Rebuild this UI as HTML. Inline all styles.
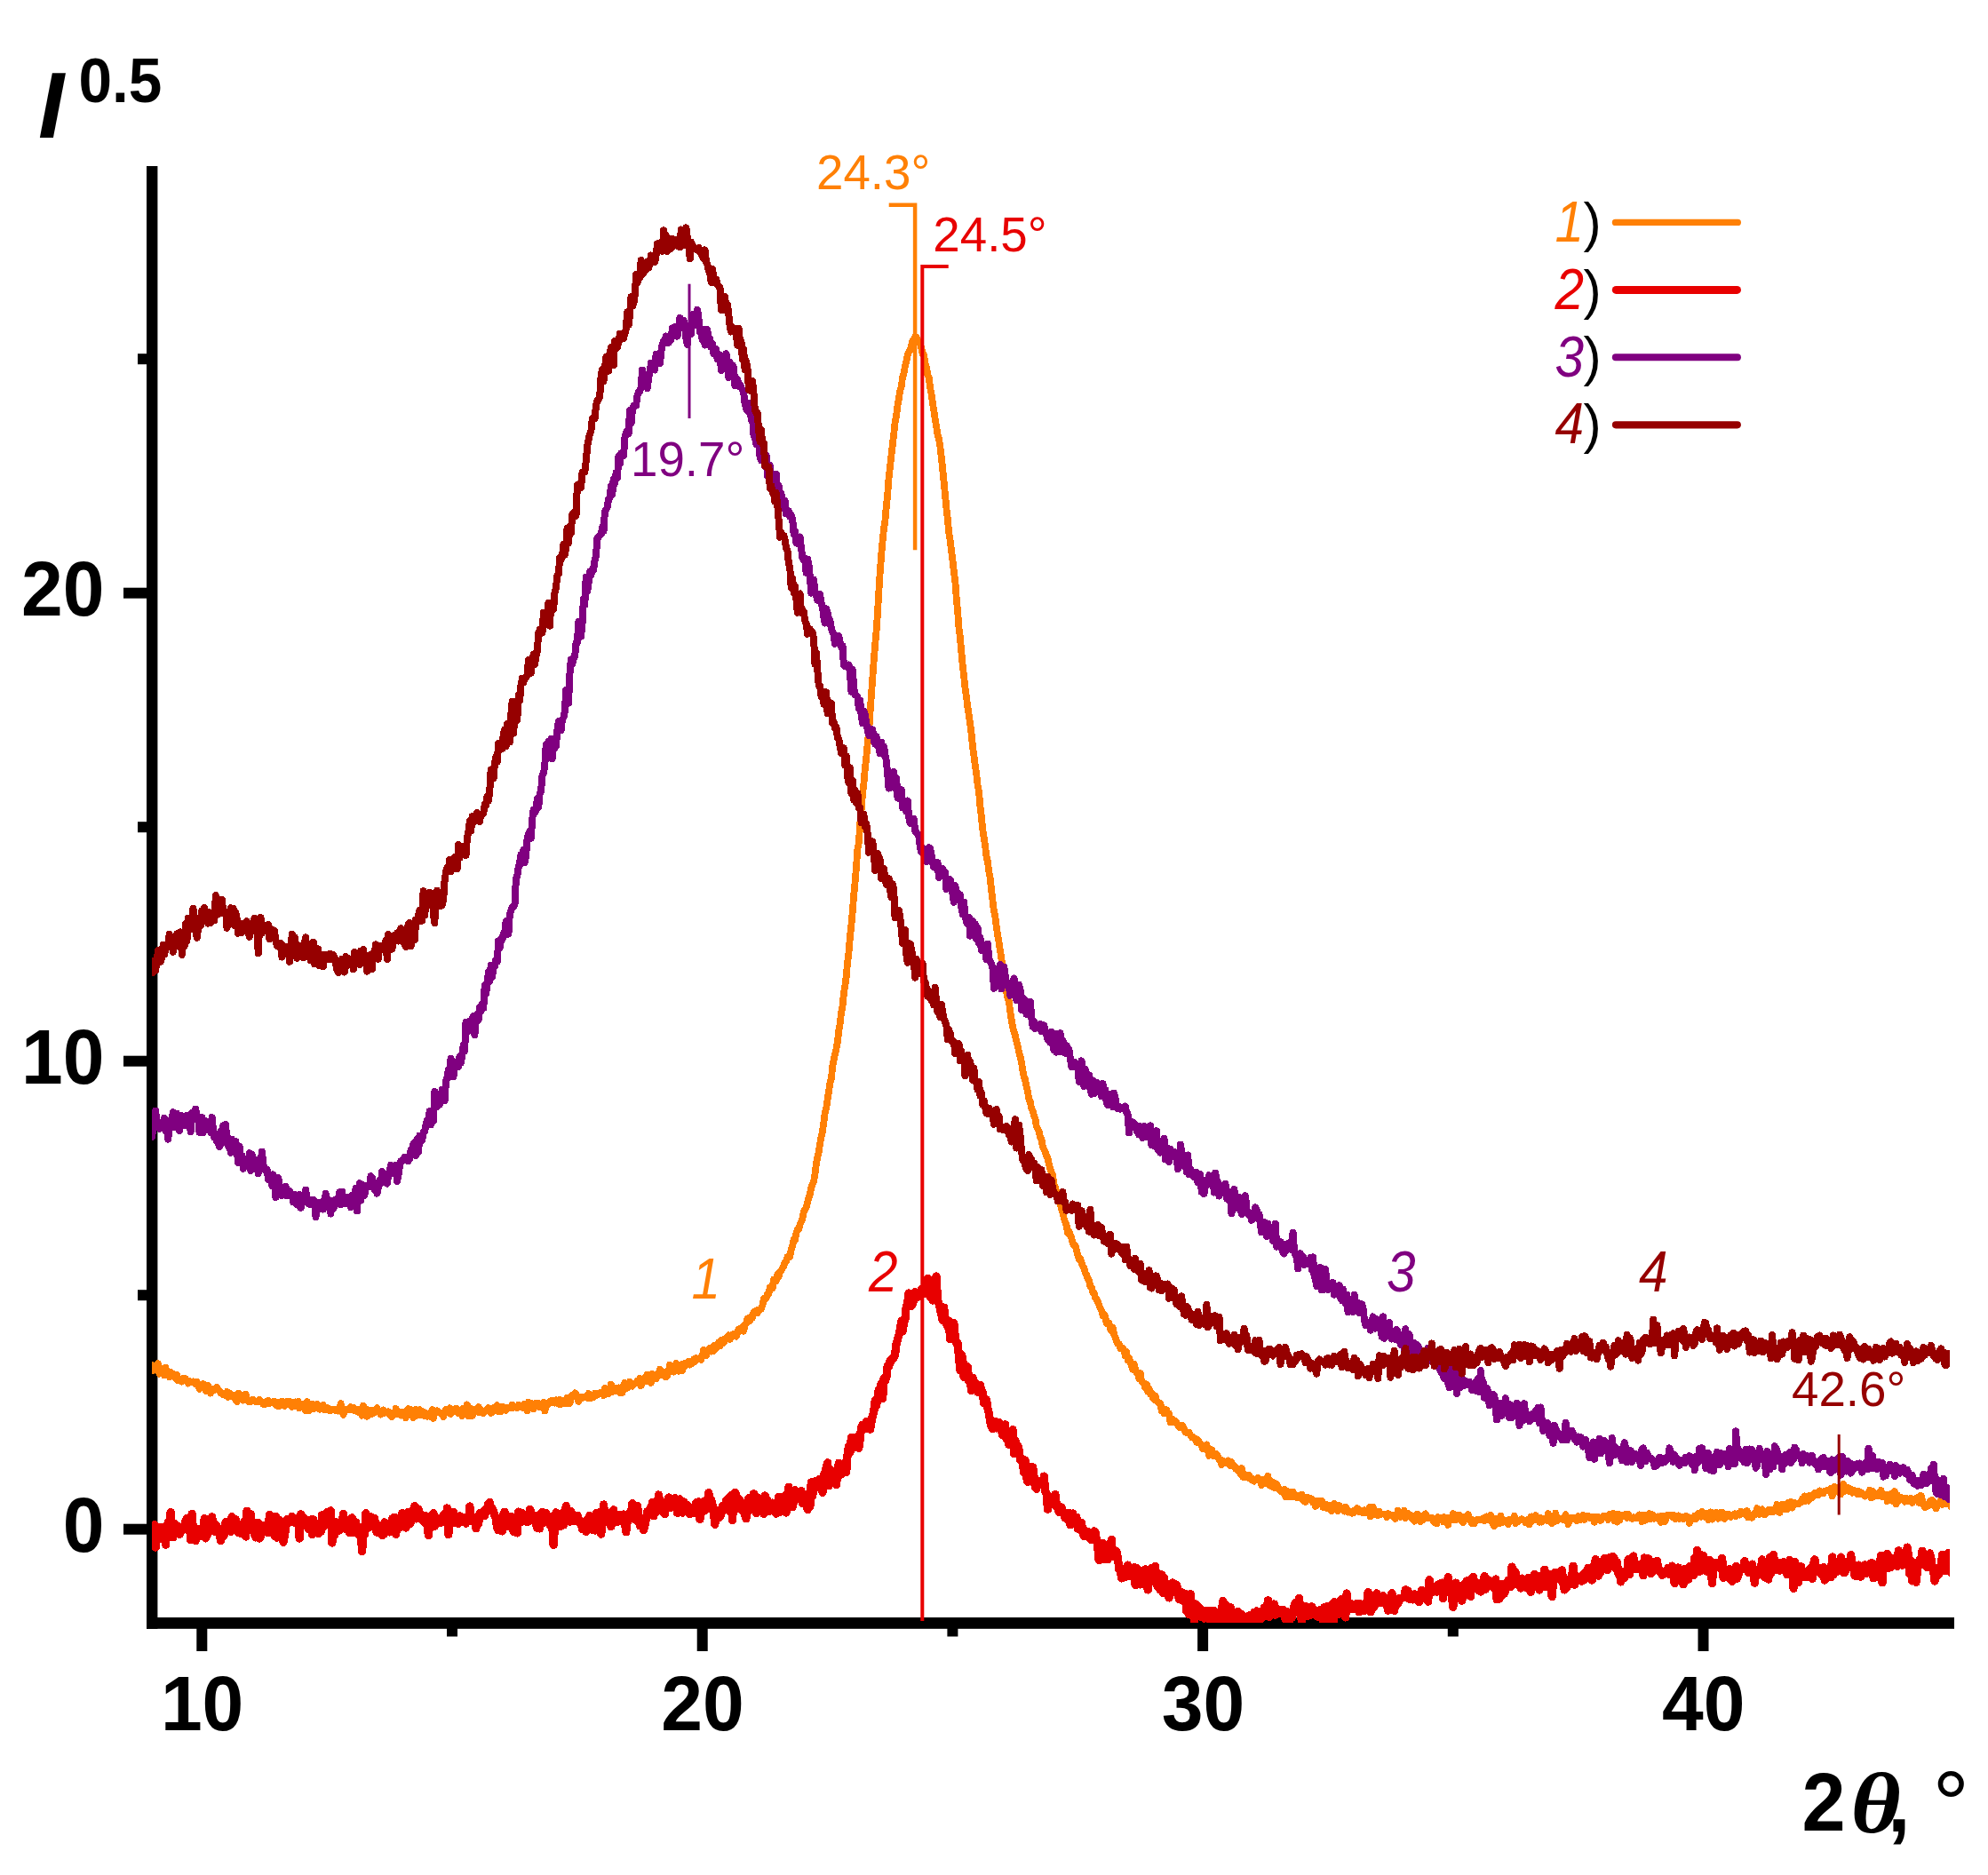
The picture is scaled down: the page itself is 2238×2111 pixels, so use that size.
<!DOCTYPE html>
<html><head><meta charset="utf-8"><title>XRD</title>
<style>
html,body{margin:0;padding:0;background:#fff;}
body{width:2238px;height:2111px;overflow:hidden;}
svg{display:block;}
text{font-family:"Liberation Sans",sans-serif;}
</style></head><body>
<svg width="2238" height="2111" viewBox="0 0 2238 2111">
<defs><clipPath id="plot"><rect x="171" y="150" width="2024" height="1677"/></clipPath></defs>
<rect width="2238" height="2111" fill="#fff"/>
<g fill="#000">
<rect x="165" y="187" width="12.4" height="1646.8"/>
<rect x="165" y="1821" width="2035" height="12.8"/>
<rect x="221.3" y="1827" width="12" height="32"/>
<rect x="784.7" y="1827" width="12" height="32"/>
<rect x="1348.1" y="1827" width="12" height="32"/>
<rect x="1911.5" y="1827" width="12" height="32"/>
<rect x="503.0" y="1827" width="12" height="15.5"/>
<rect x="1066.4" y="1827" width="12" height="15.5"/>
<rect x="1629.8" y="1827" width="12" height="15.5"/>
<rect x="139" y="1715.7" width="32" height="12"/>
<rect x="139" y="1188.7" width="32" height="12"/>
<rect x="139" y="661.7" width="32" height="12"/>
<rect x="155" y="1452.2" width="16" height="12"/>
<rect x="155" y="925.2" width="16" height="12"/>
<rect x="155" y="398.2" width="16" height="12"/>
</g>
<g clip-path="url(#plot)" fill="none" shape-rendering="crispEdges" stroke-linejoin="round" stroke-linecap="round">
<polyline stroke="#FF8005" stroke-width="7.8" points="171.0,1543.4 172.4,1537.3 173.8,1538.0 175.2,1537.2 176.6,1543.0 178.0,1535.1 179.5,1546.7 180.9,1540.6 182.3,1544.2 183.7,1543.3 185.1,1548.5 186.5,1539.7 187.9,1545.0 189.3,1545.5 190.7,1550.2 192.1,1544.9 193.5,1547.9 194.9,1546.6 196.4,1549.7 197.8,1551.8 199.2,1547.8 200.6,1554.4 202.0,1554.4 203.4,1553.9 204.8,1555.5 206.2,1551.9 207.6,1554.0 209.0,1552.4 210.4,1554.7 211.8,1557.5 213.3,1554.8 214.7,1555.9 216.1,1555.5 217.5,1555.4 218.9,1556.3 220.3,1558.4 221.7,1555.8 223.1,1559.8 224.5,1564.0 225.9,1561.9 227.3,1559.7 228.7,1558.2 230.2,1558.9 231.6,1565.8 233.0,1561.8 234.4,1560.3 235.8,1562.9 237.2,1568.6 238.6,1563.7 240.0,1565.5 241.4,1565.1 242.8,1563.8 244.2,1562.1 245.7,1564.8 247.1,1565.6 248.5,1568.2 249.9,1569.4 251.3,1570.1 252.7,1568.8 254.1,1570.9 255.5,1566.9 256.9,1572.8 258.3,1571.2 259.7,1569.4 261.1,1571.9 262.6,1570.8 264.0,1574.4 265.4,1575.9 266.8,1578.1 268.2,1568.8 269.6,1569.1 271.0,1572.0 272.4,1574.2 273.8,1576.5 275.2,1575.4 276.6,1569.5 278.0,1574.5 279.5,1578.0 280.9,1576.7 282.3,1578.3 283.7,1575.8 285.1,1576.1 286.5,1577.3 287.9,1578.1 289.3,1577.7 290.7,1577.7 292.1,1575.7 293.5,1578.7 294.9,1578.2 296.4,1581.1 297.8,1581.5 299.2,1578.9 300.6,1577.6 302.0,1577.0 303.4,1580.1 304.8,1579.3 306.2,1578.4 307.6,1579.6 309.0,1578.0 310.4,1581.7 311.9,1578.7 313.3,1583.4 314.7,1581.3 316.1,1581.9 317.5,1577.5 318.9,1581.1 320.3,1582.7 321.7,1578.3 323.1,1580.3 324.5,1581.2 325.9,1577.6 327.3,1582.3 328.8,1583.8 330.2,1579.4 331.6,1582.8 333.0,1578.4 334.4,1582.0 335.8,1577.9 337.2,1585.4 338.6,1583.6 340.0,1582.6 341.4,1580.7 342.8,1586.4 344.2,1588.4 345.7,1578.2 347.1,1586.7 348.5,1587.9 349.9,1584.5 351.3,1580.5 352.7,1586.3 354.1,1583.6 355.5,1582.6 356.9,1581.0 358.3,1586.0 359.7,1586.8 361.1,1583.1 362.6,1586.3 364.0,1582.0 365.4,1587.4 366.8,1585.5 368.2,1585.0 369.6,1585.4 371.0,1588.1 372.4,1588.0 373.8,1587.5 375.2,1586.6 376.6,1586.6 378.0,1588.2 379.5,1587.2 380.9,1588.5 382.3,1585.9 383.7,1580.2 385.1,1589.7 386.5,1592.8 387.9,1588.2 389.3,1586.7 390.7,1586.7 392.1,1586.8 393.5,1587.2 395.0,1584.2 396.4,1585.9 397.8,1584.7 399.2,1588.1 400.6,1586.7 402.0,1588.9 403.4,1587.1 404.8,1590.3 406.2,1588.3 407.6,1593.7 409.0,1582.7 410.4,1586.1 411.9,1590.3 413.3,1594.8 414.7,1587.4 416.1,1588.3 417.5,1587.6 418.9,1591.9 420.3,1587.7 421.7,1590.4 423.1,1587.8 424.5,1585.3 425.9,1589.7 427.3,1590.3 428.8,1592.5 430.2,1588.8 431.6,1587.6 433.0,1590.9 434.4,1590.1 435.8,1590.3 437.2,1589.4 438.6,1592.9 440.0,1590.8 441.4,1595.1 442.8,1593.0 444.2,1591.9 445.7,1585.9 447.1,1592.0 448.5,1591.6 449.9,1592.7 451.3,1593.5 452.7,1589.7 454.1,1593.1 455.5,1589.4 456.9,1596.3 458.3,1587.4 459.7,1586.2 461.2,1586.4 462.6,1588.5 464.0,1587.8 465.4,1596.1 466.8,1589.9 468.2,1587.1 469.6,1593.7 471.0,1589.1 472.4,1587.3 473.8,1593.0 475.2,1592.3 476.6,1589.4 478.1,1594.3 479.5,1590.8 480.9,1594.8 482.3,1591.8 483.7,1594.6 485.1,1590.7 486.5,1587.0 487.9,1596.9 489.3,1588.8 490.7,1589.7 492.1,1588.3 493.5,1589.6 495.0,1590.8 496.4,1590.7 497.8,1591.9 499.2,1594.9 500.6,1589.7 502.0,1586.7 503.4,1586.7 504.8,1588.1 506.2,1585.3 507.6,1592.0 509.0,1588.3 510.4,1588.8 511.9,1589.5 513.3,1585.7 514.7,1587.1 516.1,1591.2 517.5,1591.0 518.9,1588.0 520.3,1594.1 521.7,1585.6 523.1,1588.1 524.5,1588.4 525.9,1581.4 527.4,1594.1 528.8,1589.8 530.2,1585.9 531.6,1594.2 533.0,1590.2 534.4,1589.7 535.8,1586.8 537.2,1588.7 538.6,1584.1 540.0,1590.3 541.4,1587.0 542.8,1588.2 544.3,1591.0 545.7,1588.3 547.1,1588.1 548.5,1588.0 549.9,1585.2 551.3,1589.3 552.7,1591.0 554.1,1588.8 555.5,1589.0 556.9,1584.1 558.3,1584.0 559.7,1582.3 561.2,1589.4 562.6,1585.2 564.0,1589.5 565.4,1583.5 566.8,1584.3 568.2,1585.6 569.6,1587.7 571.0,1585.2 572.4,1585.5 573.8,1584.8 575.2,1585.1 576.6,1581.5 578.1,1584.6 579.5,1583.7 580.9,1583.9 582.3,1585.2 583.7,1581.9 585.1,1583.4 586.5,1582.7 587.9,1584.5 589.3,1585.3 590.7,1580.5 592.1,1584.5 593.6,1588.3 595.0,1578.6 596.4,1580.2 597.8,1579.9 599.2,1581.4 600.6,1586.4 602.0,1581.9 603.4,1579.9 604.8,1583.3 606.2,1579.8 607.6,1584.3 609.0,1581.9 610.5,1584.6 611.9,1578.9 613.3,1588.6 614.7,1582.5 616.1,1581.8 617.5,1579.7 618.9,1577.7 620.3,1577.1 621.7,1578.8 623.1,1576.8 624.5,1579.5 625.9,1576.3 627.4,1580.0 628.8,1580.7 630.2,1576.0 631.6,1580.9 633.0,1576.9 634.4,1580.4 635.8,1578.3 637.2,1579.9 638.6,1574.0 640.0,1576.2 641.4,1580.2 642.8,1574.4 644.3,1570.2 645.7,1570.2 647.1,1568.4 648.5,1569.2 649.9,1573.5 651.3,1577.8 652.7,1572.9 654.1,1574.7 655.5,1573.2 656.9,1573.2 658.3,1572.5 659.7,1572.2 661.2,1573.6 662.6,1568.9 664.0,1574.5 665.4,1574.0 666.8,1570.7 668.2,1573.1 669.6,1568.8 671.0,1568.9 672.4,1570.5 673.8,1569.3 675.2,1568.3 676.7,1567.5 678.1,1567.5 679.5,1571.1 680.9,1562.9 682.3,1568.7 683.7,1566.7 685.1,1568.9 686.5,1567.9 687.9,1558.5 689.3,1567.2 690.7,1566.1 692.1,1564.9 693.6,1563.1 695.0,1566.3 696.4,1562.4 697.8,1568.1 699.2,1564.2 700.6,1568.1 702.0,1559.8 703.4,1556.7 704.8,1563.0 706.2,1562.9 707.6,1560.3 709.0,1555.6 710.5,1558.2 711.9,1560.6 713.3,1558.0 714.7,1557.7 716.1,1557.0 717.5,1554.4 718.9,1555.0 720.3,1552.0 721.7,1560.1 723.1,1553.5 724.5,1555.6 725.9,1551.0 727.4,1555.4 728.8,1547.6 730.2,1554.7 731.6,1551.5 733.0,1556.8 734.4,1547.1 735.8,1550.3 737.2,1550.5 738.6,1552.3 740.0,1547.3 741.4,1548.2 742.9,1541.6 744.3,1544.6 745.7,1547.6 747.1,1548.8 748.5,1544.5 749.9,1550.3 751.3,1549.0 752.7,1543.5 754.1,1536.6 755.5,1537.8 756.9,1540.0 758.3,1544.6 759.8,1541.9 761.2,1534.9 762.6,1539.4 764.0,1543.8 765.4,1537.9 766.8,1536.4 768.2,1543.4 769.6,1537.5 771.0,1535.2 772.4,1536.7 773.8,1535.0 775.2,1532.9 776.7,1536.5 778.1,1535.5 779.5,1533.9 780.9,1530.5 782.3,1533.1 783.7,1529.1 785.1,1529.6 786.5,1530.4 787.9,1528.9 789.3,1530.8 790.7,1526.3 792.1,1519.8 793.6,1520.4 795.0,1526.3 796.4,1520.8 797.8,1521.8 799.2,1517.6 800.6,1521.6 802.0,1517.0 803.4,1521.0 804.8,1514.7 806.2,1518.3 807.6,1516.2 809.1,1511.5 810.5,1515.5 811.9,1509.1 813.3,1508.4 814.7,1511.7 816.1,1507.1 817.5,1506.3 818.9,1506.0 820.3,1503.3 821.7,1507.9 823.1,1505.7 824.5,1502.8 826.0,1501.6 827.4,1502.1 828.8,1504.6 830.2,1501.1 831.6,1496.4 833.0,1498.8 834.4,1495.3 835.8,1494.1 837.2,1498.6 838.6,1491.4 840.0,1490.2 841.4,1484.3 842.9,1483.9 844.3,1487.1 845.7,1482.1 847.1,1483.5 848.5,1477.3 849.9,1476.3 851.3,1478.4 852.7,1478.6 854.1,1474.4 855.5,1474.2 856.9,1473.7 858.3,1469.7 859.8,1462.2 861.2,1462.1 862.6,1461.9 864.0,1456.8 865.4,1456.9 866.8,1449.2 868.2,1449.0 869.6,1450.4 871.0,1440.7 872.4,1441.6 873.8,1442.3 875.3,1435.2 876.7,1437.1 878.1,1431.9 879.5,1430.4 880.9,1427.6 882.3,1425.9 883.7,1421.0 885.1,1419.9 886.5,1415.1 887.9,1415.4 889.3,1414.9 890.7,1406.9 892.2,1402.9 893.6,1395.3 895.0,1396.3 896.4,1388.4 897.8,1384.3 899.2,1383.9 900.6,1378.5 902.0,1375.8 903.4,1372.1 904.8,1364.6 906.2,1361.5 907.6,1359.9 909.1,1353.9 910.5,1348.5 911.9,1344.6 913.3,1336.5 914.7,1333.6 916.1,1329.7 917.5,1322.2 918.9,1310.4 920.3,1303.4 921.7,1296.7 923.1,1287.9 924.5,1280.1 926.0,1273.4 927.4,1263.2 928.8,1252.5 930.2,1247.5 931.6,1237.8 933.0,1228.8 934.4,1219.0 935.8,1214.7 937.2,1201.0 938.6,1193.4 940.0,1187.2 941.4,1181.1 942.9,1172.8 944.3,1160.3 945.7,1152.3 947.1,1139.6 948.5,1133.0 949.9,1118.4 951.3,1110.0 952.7,1099.6 954.1,1083.8 955.5,1072.7 956.9,1055.1 958.4,1041.4 959.8,1025.7 961.2,1007.6 962.6,993.6 964.0,975.9 965.4,956.2 966.8,949.1 968.2,927.8 969.6,912.0 971.0,894.6 972.4,882.1 973.8,866.0 975.3,852.5 976.7,836.7 978.1,823.7 979.5,802.5 980.9,783.3 982.3,763.3 983.7,743.9 985.1,726.6 986.5,711.3 987.9,691.5 989.3,667.4 990.7,644.9 992.2,624.8 993.6,609.0 995.0,595.3 996.4,586.4 997.8,570.3 999.2,556.9 1000.6,537.7 1002.0,525.9 1003.4,512.9 1004.8,500.7 1006.2,489.2 1007.6,475.4 1009.1,467.8 1010.5,456.6 1011.9,449.0 1013.3,439.6 1014.7,435.5 1016.1,424.4 1017.5,420.4 1018.9,412.4 1020.3,407.4 1021.7,400.2 1023.1,396.3 1024.6,394.0 1026.0,389.6 1027.4,383.8 1028.8,384.6 1030.2,379.1 1031.6,379.6 1033.0,383.0 1034.4,384.5 1035.8,386.2 1037.2,391.6 1038.6,398.8 1040.0,399.0 1041.5,408.8 1042.9,413.3 1044.3,421.7 1045.7,425.0 1047.1,436.6 1048.5,443.2 1049.9,453.9 1051.3,462.0 1052.7,472.2 1054.1,479.5 1055.5,489.2 1056.9,493.9 1058.4,502.9 1059.8,514.9 1061.2,528.2 1062.6,542.5 1064.0,557.1 1065.4,572.0 1066.8,584.1 1068.2,599.7 1069.6,608.3 1071.0,618.8 1072.4,630.7 1073.8,643.2 1075.3,653.8 1076.7,672.8 1078.1,687.8 1079.5,707.2 1080.9,717.5 1082.3,733.4 1083.7,749.0 1085.1,761.0 1086.5,774.2 1087.9,783.9 1089.3,795.6 1090.8,805.7 1092.2,814.8 1093.6,826.5 1095.0,840.4 1096.4,850.5 1097.8,861.5 1099.2,870.8 1100.6,884.0 1102.0,891.1 1103.4,907.3 1104.8,918.8 1106.2,933.9 1107.7,942.9 1109.1,952.5 1110.5,964.5 1111.9,969.9 1113.3,981.5 1114.7,988.5 1116.1,1002.5 1117.5,1013.8 1118.9,1025.2 1120.3,1032.1 1121.7,1043.2 1123.1,1052.4 1124.6,1061.0 1126.0,1070.4 1127.4,1079.6 1128.8,1087.9 1130.2,1094.1 1131.6,1102.2 1133.0,1116.6 1134.4,1124.1 1135.8,1127.2 1137.2,1138.7 1138.6,1147.5 1140.0,1156.2 1141.5,1161.8 1142.9,1165.7 1144.3,1172.5 1145.7,1177.7 1147.1,1184.4 1148.5,1189.4 1149.9,1195.8 1151.3,1204.7 1152.7,1212.1 1154.1,1215.3 1155.5,1223.5 1157.0,1229.1 1158.4,1237.6 1159.8,1240.7 1161.2,1248.3 1162.6,1250.3 1164.0,1256.3 1165.4,1259.2 1166.8,1268.4 1168.2,1270.7 1169.6,1273.8 1171.0,1280.2 1172.4,1282.3 1173.9,1290.9 1175.3,1294.1 1176.7,1297.0 1178.1,1301.6 1179.5,1303.4 1180.9,1310.8 1182.3,1315.6 1183.7,1320.4 1185.1,1323.0 1186.5,1333.5 1187.9,1336.3 1189.3,1341.9 1190.8,1344.5 1192.2,1351.7 1193.6,1356.1 1195.0,1360.7 1196.4,1365.1 1197.8,1371.8 1199.2,1375.9 1200.6,1379.7 1202.0,1388.1 1203.4,1385.9 1204.8,1390.5 1206.2,1393.6 1207.7,1400.2 1209.1,1402.2 1210.5,1402.1 1211.9,1407.7 1213.3,1413.0 1214.7,1417.7 1216.1,1416.8 1217.5,1421.5 1218.9,1425.5 1220.3,1427.7 1221.7,1432.9 1223.1,1435.4 1224.6,1439.5 1226.0,1441.3 1227.4,1448.5 1228.8,1449.5 1230.2,1455.1 1231.6,1455.8 1233.0,1461.0 1234.4,1462.5 1235.8,1465.5 1237.2,1469.1 1238.6,1473.0 1240.1,1475.5 1241.5,1481.1 1242.9,1479.6 1244.3,1482.5 1245.7,1489.8 1247.1,1490.8 1248.5,1489.6 1249.9,1496.2 1251.3,1498.7 1252.7,1494.8 1254.1,1502.0 1255.5,1505.5 1257.0,1510.0 1258.4,1513.1 1259.8,1513.2 1261.2,1518.2 1262.6,1517.5 1264.0,1518.1 1265.4,1520.2 1266.8,1526.5 1268.2,1522.0 1269.6,1531.4 1271.0,1528.8 1272.4,1533.1 1273.9,1537.7 1275.3,1541.9 1276.7,1535.6 1278.1,1540.9 1279.5,1545.5 1280.9,1546.0 1282.3,1552.2 1283.7,1546.2 1285.1,1554.8 1286.5,1556.9 1287.9,1557.9 1289.3,1562.7 1290.8,1558.4 1292.2,1566.6 1293.6,1563.7 1295.0,1569.5 1296.4,1568.7 1297.8,1573.7 1299.2,1575.6 1300.6,1571.4 1302.0,1576.5 1303.4,1578.3 1304.8,1579.6 1306.3,1579.8 1307.7,1588.5 1309.1,1585.7 1310.5,1591.0 1311.9,1586.9 1313.3,1587.2 1314.7,1592.0 1316.1,1591.8 1317.5,1601.4 1318.9,1597.3 1320.3,1601.3 1321.7,1599.0 1323.2,1600.0 1324.6,1602.0 1326.0,1604.2 1327.4,1606.8 1328.8,1605.3 1330.2,1605.0 1331.6,1605.2 1333.0,1609.1 1334.4,1612.1 1335.8,1612.9 1337.2,1612.9 1338.6,1612.5 1340.1,1615.7 1341.5,1618.1 1342.9,1617.6 1344.3,1619.2 1345.7,1619.6 1347.1,1623.6 1348.5,1621.1 1349.9,1624.0 1351.3,1625.7 1352.7,1627.7 1354.1,1631.0 1355.5,1629.9 1357.0,1630.8 1358.4,1626.4 1359.8,1633.2 1361.2,1638.9 1362.6,1631.6 1364.0,1632.1 1365.4,1635.3 1366.8,1639.5 1368.2,1639.1 1369.6,1637.4 1371.0,1639.5 1372.5,1643.3 1373.9,1643.3 1375.3,1649.0 1376.7,1646.1 1378.1,1645.3 1379.5,1646.9 1380.9,1645.3 1382.3,1644.5 1383.7,1648.5 1385.1,1650.3 1386.5,1646.2 1387.9,1649.5 1389.4,1650.8 1390.8,1653.5 1392.2,1653.0 1393.6,1655.9 1395.0,1655.9 1396.4,1659.4 1397.8,1652.9 1399.2,1662.9 1400.6,1663.2 1402.0,1660.4 1403.4,1663.0 1404.8,1663.8 1406.3,1660.9 1407.7,1663.8 1409.1,1665.9 1410.5,1665.1 1411.9,1667.6 1413.3,1665.5 1414.7,1665.9 1416.1,1664.1 1417.5,1665.7 1418.9,1665.9 1420.3,1672.2 1421.7,1668.7 1423.2,1665.8 1424.6,1670.0 1426.0,1668.9 1427.4,1661.7 1428.8,1672.0 1430.2,1667.2 1431.6,1673.6 1433.0,1670.1 1434.4,1669.5 1435.8,1675.4 1437.2,1670.8 1438.7,1674.3 1440.1,1676.7 1441.5,1678.5 1442.9,1679.6 1444.3,1678.1 1445.7,1676.7 1447.1,1684.8 1448.5,1678.6 1449.9,1685.5 1451.3,1679.9 1452.7,1684.7 1454.1,1685.0 1455.6,1679.7 1457.0,1684.0 1458.4,1685.5 1459.8,1685.8 1461.2,1683.9 1462.6,1685.7 1464.0,1684.3 1465.4,1682.6 1466.8,1688.9 1468.2,1685.2 1469.6,1691.0 1471.0,1689.4 1472.5,1685.9 1473.9,1688.3 1475.3,1688.5 1476.7,1687.5 1478.1,1691.7 1479.5,1689.5 1480.9,1695.8 1482.3,1694.2 1483.7,1690.0 1485.1,1692.8 1486.5,1692.8 1487.9,1689.7 1489.4,1696.9 1490.8,1697.2 1492.2,1697.4 1493.6,1694.0 1495.0,1698.4 1496.4,1695.2 1497.8,1698.5 1499.2,1701.2 1500.6,1696.9 1502.0,1693.0 1503.4,1696.3 1504.8,1699.1 1506.3,1701.0 1507.7,1694.9 1509.1,1697.7 1510.5,1699.1 1511.9,1699.9 1513.3,1701.5 1514.7,1696.8 1516.1,1698.4 1517.5,1702.6 1518.9,1701.2 1520.3,1701.6 1521.8,1703.7 1523.2,1701.2 1524.6,1702.7 1526.0,1700.7 1527.4,1698.2 1528.8,1698.5 1530.2,1702.4 1531.6,1701.8 1533.0,1700.7 1534.4,1703.5 1535.8,1700.3 1537.2,1703.2 1538.7,1703.0 1540.1,1700.9 1541.5,1697.1 1542.9,1707.4 1544.3,1704.5 1545.7,1696.6 1547.1,1702.7 1548.5,1705.1 1549.9,1703.6 1551.3,1705.9 1552.7,1701.8 1554.1,1705.1 1555.6,1704.6 1557.0,1704.4 1558.4,1704.5 1559.8,1705.7 1561.2,1707.9 1562.6,1704.0 1564.0,1704.5 1565.4,1706.2 1566.8,1705.6 1568.2,1707.1 1569.6,1708.1 1571.0,1709.8 1572.5,1706.2 1573.9,1700.5 1575.3,1706.6 1576.7,1707.9 1578.1,1706.6 1579.5,1706.8 1580.9,1700.8 1582.3,1708.9 1583.7,1706.8 1585.1,1703.7 1586.5,1705.6 1588.0,1705.7 1589.4,1709.8 1590.8,1709.9 1592.2,1712.6 1593.6,1710.4 1595.0,1705.1 1596.4,1705.1 1597.8,1712.1 1599.2,1713.4 1600.6,1708.7 1602.0,1711.0 1603.4,1705.6 1604.9,1704.5 1606.3,1706.8 1607.7,1709.0 1609.1,1708.6 1610.5,1709.4 1611.9,1708.7 1613.3,1711.8 1614.7,1713.9 1616.1,1710.1 1617.5,1715.5 1618.9,1708.3 1620.3,1708.6 1621.8,1711.0 1623.2,1709.0 1624.6,1713.2 1626.0,1708.3 1627.4,1713.6 1628.8,1710.5 1630.2,1716.9 1631.6,1708.7 1633.0,1709.5 1634.4,1710.4 1635.8,1704.1 1637.2,1711.6 1638.7,1711.3 1640.1,1710.3 1641.5,1705.8 1642.9,1705.8 1644.3,1711.6 1645.7,1713.2 1647.1,1714.4 1648.5,1707.7 1649.9,1707.4 1651.3,1709.5 1652.7,1705.0 1654.2,1708.8 1655.6,1712.8 1657.0,1715.0 1658.4,1711.4 1659.8,1715.1 1661.2,1711.9 1662.6,1711.4 1664.0,1710.5 1665.4,1711.5 1666.8,1710.4 1668.2,1710.7 1669.6,1709.4 1671.1,1712.0 1672.5,1711.4 1673.9,1707.4 1675.3,1710.8 1676.7,1709.2 1678.1,1706.1 1679.5,1713.0 1680.9,1716.0 1682.3,1718.2 1683.7,1716.1 1685.1,1709.6 1686.5,1715.1 1688.0,1715.0 1689.4,1706.5 1690.8,1714.2 1692.2,1713.5 1693.6,1712.2 1695.0,1712.5 1696.4,1711.9 1697.8,1716.1 1699.2,1710.6 1700.6,1711.1 1702.0,1711.6 1703.4,1712.3 1704.9,1706.7 1706.3,1715.2 1707.7,1712.0 1709.1,1712.9 1710.5,1711.9 1711.9,1710.8 1713.3,1710.3 1714.7,1711.5 1716.1,1711.6 1717.5,1714.3 1718.9,1712.1 1720.4,1710.7 1721.8,1716.4 1723.2,1707.6 1724.6,1707.4 1726.0,1711.9 1727.4,1710.4 1728.8,1706.1 1730.2,1710.0 1731.6,1708.9 1733.0,1713.8 1734.4,1709.1 1735.8,1713.6 1737.3,1711.9 1738.7,1710.1 1740.1,1710.7 1741.5,1711.7 1742.9,1704.3 1744.3,1711.4 1745.7,1709.4 1747.1,1715.3 1748.5,1708.5 1749.9,1713.4 1751.3,1703.5 1752.7,1712.5 1754.2,1711.0 1755.6,1709.5 1757.0,1709.8 1758.4,1709.4 1759.8,1711.2 1761.2,1709.7 1762.6,1705.2 1764.0,1709.5 1765.4,1716.0 1766.8,1710.0 1768.2,1710.7 1769.6,1708.6 1771.1,1710.3 1772.5,1710.2 1773.9,1709.0 1775.3,1712.0 1776.7,1707.1 1778.1,1709.2 1779.5,1710.9 1780.9,1708.8 1782.3,1706.1 1783.7,1710.9 1785.1,1706.7 1786.5,1708.1 1788.0,1707.0 1789.4,1708.9 1790.8,1708.0 1792.2,1707.9 1793.6,1710.9 1795.0,1713.8 1796.4,1708.0 1797.8,1710.4 1799.2,1708.0 1800.6,1709.1 1802.0,1711.9 1803.5,1708.9 1804.9,1706.6 1806.3,1706.8 1807.7,1707.0 1809.1,1708.6 1810.5,1711.0 1811.9,1704.9 1813.3,1705.8 1814.7,1706.1 1816.1,1703.8 1817.5,1712.1 1818.9,1708.4 1820.4,1713.6 1821.8,1704.6 1823.2,1711.9 1824.6,1706.5 1826.0,1707.2 1827.4,1705.6 1828.8,1705.7 1830.2,1704.7 1831.6,1708.8 1833.0,1704.6 1834.4,1707.5 1835.8,1708.1 1837.3,1709.9 1838.7,1708.3 1840.1,1708.9 1841.5,1709.4 1842.9,1708.0 1844.3,1709.0 1845.7,1705.4 1847.1,1705.9 1848.5,1713.1 1849.9,1708.0 1851.3,1706.1 1852.7,1711.7 1854.2,1707.6 1855.6,1706.3 1857.0,1704.1 1858.4,1710.1 1859.8,1705.1 1861.2,1706.5 1862.6,1709.7 1864.0,1708.5 1865.4,1707.8 1866.8,1707.4 1868.2,1711.1 1869.7,1714.0 1871.1,1706.5 1872.5,1709.5 1873.9,1713.2 1875.3,1710.9 1876.7,1706.1 1878.1,1706.8 1879.5,1706.4 1880.9,1705.5 1882.3,1706.3 1883.7,1708.6 1885.1,1706.2 1886.6,1710.1 1888.0,1708.0 1889.4,1706.5 1890.8,1709.9 1892.2,1708.3 1893.6,1708.1 1895.0,1710.1 1896.4,1708.8 1897.8,1706.9 1899.2,1709.6 1900.6,1707.9 1902.0,1714.8 1903.5,1709.9 1904.9,1709.9 1906.3,1710.2 1907.7,1706.9 1909.1,1710.1 1910.5,1706.6 1911.9,1704.2 1913.3,1704.9 1914.7,1707.7 1916.1,1702.0 1917.5,1706.7 1918.9,1704.1 1920.4,1708.0 1921.8,1704.0 1923.2,1711.0 1924.6,1708.0 1926.0,1702.4 1927.4,1710.6 1928.8,1705.2 1930.2,1703.8 1931.6,1703.0 1933.0,1707.2 1934.4,1709.7 1935.9,1704.1 1937.3,1702.9 1938.7,1702.5 1940.1,1709.5 1941.5,1710.0 1942.9,1704.5 1944.3,1706.9 1945.7,1705.4 1947.1,1705.2 1948.5,1707.9 1949.9,1706.4 1951.3,1706.1 1952.8,1704.4 1954.2,1707.4 1955.6,1704.4 1957.0,1705.2 1958.4,1705.6 1959.8,1701.8 1961.2,1704.1 1962.6,1703.9 1964.0,1704.9 1965.4,1701.5 1966.8,1701.1 1968.2,1708.6 1969.7,1707.2 1971.1,1706.3 1972.5,1708.7 1973.9,1704.8 1975.3,1703.3 1976.7,1704.7 1978.1,1698.2 1979.5,1700.2 1980.9,1705.0 1982.3,1703.0 1983.7,1699.3 1985.1,1704.4 1986.6,1705.2 1988.0,1704.1 1989.4,1702.1 1990.8,1699.8 1992.2,1702.1 1993.6,1702.5 1995.0,1700.0 1996.4,1702.2 1997.8,1701.0 1999.2,1700.6 2000.6,1693.8 2002.1,1701.8 2003.5,1703.1 2004.9,1697.0 2006.3,1693.7 2007.7,1699.0 2009.1,1695.6 2010.5,1693.8 2011.9,1699.2 2013.3,1691.6 2014.7,1696.7 2016.1,1690.9 2017.5,1697.6 2019.0,1694.5 2020.4,1691.9 2021.8,1692.4 2023.2,1693.0 2024.6,1693.1 2026.0,1692.5 2027.4,1691.2 2028.8,1687.9 2030.2,1690.4 2031.6,1684.4 2033.0,1689.9 2034.4,1688.9 2035.9,1689.6 2037.3,1683.5 2038.7,1684.9 2040.1,1686.1 2041.5,1683.9 2042.9,1681.2 2044.3,1682.5 2045.7,1681.1 2047.1,1683.1 2048.5,1678.4 2049.9,1680.6 2051.3,1680.2 2052.8,1681.1 2054.2,1678.5 2055.6,1678.7 2057.0,1677.8 2058.4,1677.7 2059.8,1677.3 2061.2,1676.0 2062.6,1684.4 2064.0,1674.6 2065.4,1673.8 2066.8,1674.9 2068.2,1675.3 2069.7,1677.3 2071.1,1681.3 2072.5,1682.1 2073.9,1678.3 2075.3,1671.0 2076.7,1678.9 2078.1,1674.5 2079.5,1676.8 2080.9,1675.1 2082.3,1679.5 2083.7,1676.8 2085.2,1680.6 2086.6,1680.0 2088.0,1678.3 2089.4,1679.4 2090.8,1681.9 2092.2,1678.7 2093.6,1682.4 2095.0,1680.1 2096.4,1681.1 2097.8,1682.8 2099.2,1684.5 2100.6,1682.5 2102.1,1681.5 2103.5,1683.5 2104.9,1677.6 2106.3,1686.5 2107.7,1678.7 2109.1,1685.0 2110.5,1681.2 2111.9,1684.3 2113.3,1682.8 2114.7,1684.2 2116.1,1681.4 2117.5,1677.9 2119.0,1685.0 2120.4,1682.5 2121.8,1682.6 2123.2,1682.6 2124.6,1690.1 2126.0,1683.4 2127.4,1686.1 2128.8,1682.2 2130.2,1689.7 2131.6,1684.3 2133.0,1679.0 2134.4,1693.5 2135.9,1683.4 2137.3,1690.1 2138.7,1688.7 2140.1,1688.6 2141.5,1686.4 2142.9,1687.6 2144.3,1690.6 2145.7,1686.6 2147.1,1688.2 2148.5,1690.2 2149.9,1688.0 2151.4,1686.8 2152.8,1692.0 2154.2,1689.1 2155.6,1688.0 2157.0,1686.5 2158.4,1686.2 2159.8,1691.6 2161.2,1692.0 2162.6,1683.9 2164.0,1688.4 2165.4,1692.9 2166.8,1697.1 2168.3,1696.7 2169.7,1693.7 2171.1,1695.1 2172.5,1690.3 2173.9,1694.1 2175.3,1688.9 2176.7,1690.9 2178.1,1693.3 2179.5,1698.3 2180.9,1694.4 2182.3,1693.1 2183.7,1691.9 2185.2,1688.8 2186.6,1694.0 2188.0,1691.5 2189.4,1693.0 2190.8,1690.0 2192.2,1692.7 2193.6,1688.3 2195.0,1693.8 2196.4,1696.0 2197.8,1694.9"/>
<polyline stroke="#E80000" stroke-width="9.3" points="171.0,1724.8 172.4,1729.1 173.8,1716.6 175.2,1742.0 176.6,1719.2 178.0,1724.6 179.5,1732.1 180.9,1719.3 182.3,1719.4 183.7,1719.7 185.1,1728.6 186.5,1739.1 187.9,1723.0 189.3,1713.8 190.7,1725.1 192.1,1702.8 193.5,1718.6 194.9,1730.8 196.4,1715.1 197.8,1721.6 199.2,1717.4 200.6,1723.8 202.0,1727.6 203.4,1719.4 204.8,1722.9 206.2,1722.2 207.6,1717.9 209.0,1712.5 210.4,1709.4 211.8,1716.9 213.3,1716.1 214.7,1733.5 216.1,1704.3 217.5,1723.4 218.9,1726.6 220.3,1734.7 221.7,1730.1 223.1,1721.6 224.5,1727.0 225.9,1729.7 227.3,1722.8 228.7,1728.6 230.2,1709.7 231.6,1731.9 233.0,1728.7 234.4,1715.5 235.8,1720.8 237.2,1716.5 238.6,1707.8 240.0,1717.0 241.4,1724.0 242.8,1716.3 244.2,1718.3 245.7,1722.5 247.1,1727.7 248.5,1734.6 249.9,1722.6 251.3,1730.2 252.7,1727.8 254.1,1713.4 255.5,1722.0 256.9,1723.0 258.3,1722.8 259.7,1724.4 261.1,1707.9 262.6,1721.2 264.0,1716.1 265.4,1710.9 266.8,1723.9 268.2,1725.4 269.6,1716.3 271.0,1726.4 272.4,1718.4 273.8,1721.2 275.2,1713.0 276.6,1730.0 278.0,1701.3 279.5,1717.5 280.9,1722.5 282.3,1704.7 283.7,1717.6 285.1,1719.5 286.5,1726.9 287.9,1730.9 289.3,1720.7 290.7,1714.4 292.1,1732.0 293.5,1729.9 294.9,1717.3 296.4,1722.1 297.8,1719.7 299.2,1721.9 300.6,1717.4 302.0,1725.7 303.4,1705.6 304.8,1724.8 306.2,1721.5 307.6,1718.8 309.0,1729.3 310.4,1707.3 311.9,1731.1 313.3,1725.9 314.7,1711.7 316.1,1724.8 317.5,1718.6 318.9,1736.2 320.3,1729.7 321.7,1719.2 323.1,1710.8 324.5,1711.4 325.9,1713.4 327.3,1712.3 328.8,1707.2 330.2,1712.2 331.6,1714.3 333.0,1712.8 334.4,1711.5 335.8,1709.5 337.2,1732.0 338.6,1704.7 340.0,1706.8 341.4,1715.4 342.8,1709.5 344.2,1714.1 345.7,1717.0 347.1,1721.2 348.5,1722.3 349.9,1711.0 351.3,1727.5 352.7,1710.9 354.1,1723.4 355.5,1721.5 356.9,1717.2 358.3,1726.5 359.7,1719.0 361.1,1724.5 362.6,1705.7 364.0,1719.2 365.4,1715.6 366.8,1712.7 368.2,1702.6 369.6,1711.0 371.0,1703.4 372.4,1700.8 373.8,1737.0 375.2,1722.5 376.6,1728.8 378.0,1713.6 379.5,1723.0 380.9,1723.4 382.3,1723.0 383.7,1719.1 385.1,1717.3 386.5,1704.5 387.9,1721.0 389.3,1718.3 390.7,1721.6 392.1,1711.9 393.5,1725.7 395.0,1711.1 396.4,1709.0 397.8,1725.3 399.2,1717.7 400.6,1713.8 402.0,1723.5 403.4,1727.6 404.8,1723.3 406.2,1723.9 407.6,1746.7 409.0,1724.0 410.4,1727.7 411.9,1703.6 413.3,1718.3 414.7,1720.1 416.1,1711.7 417.5,1707.6 418.9,1715.5 420.3,1710.6 421.7,1709.4 423.1,1722.2 424.5,1725.3 425.9,1720.6 427.3,1717.6 428.8,1725.6 430.2,1728.8 431.6,1728.0 433.0,1713.9 434.4,1720.2 435.8,1723.5 437.2,1723.9 438.6,1725.0 440.0,1723.0 441.4,1710.1 442.8,1712.3 444.2,1708.2 445.7,1727.4 447.1,1715.8 448.5,1717.4 449.9,1719.8 451.3,1709.9 452.7,1703.6 454.1,1707.7 455.5,1709.2 456.9,1720.0 458.3,1715.8 459.7,1702.5 461.2,1715.7 462.6,1713.5 464.0,1701.3 465.4,1707.3 466.8,1695.6 468.2,1709.9 469.6,1705.5 471.0,1698.9 472.4,1703.6 473.8,1710.3 475.2,1705.5 476.6,1711.8 478.1,1714.5 479.5,1706.6 480.9,1711.5 482.3,1728.6 483.7,1715.5 485.1,1708.9 486.5,1714.1 487.9,1703.6 489.3,1718.2 490.7,1711.5 492.1,1715.0 493.5,1713.2 495.0,1709.8 496.4,1714.2 497.8,1710.1 499.2,1705.9 500.6,1705.0 502.0,1710.3 503.4,1698.0 504.8,1727.6 506.2,1704.8 507.6,1715.8 509.0,1707.4 510.4,1702.2 511.9,1714.1 513.3,1711.5 514.7,1711.4 516.1,1715.2 517.5,1706.8 518.9,1712.9 520.3,1713.7 521.7,1708.4 523.1,1708.2 524.5,1715.0 525.9,1712.1 527.4,1712.9 528.8,1696.0 530.2,1711.3 531.6,1712.2 533.0,1708.0 534.4,1710.6 535.8,1720.8 537.2,1709.2 538.6,1715.7 540.0,1703.9 541.4,1704.1 542.8,1706.3 544.3,1701.7 545.7,1706.6 547.1,1698.4 548.5,1701.7 549.9,1692.6 551.3,1691.5 552.7,1699.1 554.1,1698.4 555.5,1701.4 556.9,1706.2 558.3,1709.9 559.7,1720.3 561.2,1722.8 562.6,1718.5 564.0,1711.3 565.4,1723.9 566.8,1704.6 568.2,1702.2 569.6,1718.2 571.0,1717.3 572.4,1717.1 573.8,1718.7 575.2,1707.4 576.6,1709.8 578.1,1724.3 579.5,1721.7 580.9,1709.1 582.3,1725.9 583.7,1702.1 585.1,1708.6 586.5,1713.9 587.9,1703.6 589.3,1707.7 590.7,1708.4 592.1,1706.4 593.6,1713.6 595.0,1712.7 596.4,1699.2 597.8,1702.3 599.2,1709.1 600.6,1709.1 602.0,1706.3 603.4,1716.2 604.8,1720.4 606.2,1711.7 607.6,1720.9 609.0,1703.8 610.5,1702.3 611.9,1714.6 613.3,1704.6 614.7,1703.2 616.1,1708.9 617.5,1708.0 618.9,1716.8 620.3,1707.2 621.7,1715.8 623.1,1739.4 624.5,1718.6 625.9,1702.9 627.4,1717.4 628.8,1715.0 630.2,1718.8 631.6,1709.6 633.0,1703.8 634.4,1717.1 635.8,1712.4 637.2,1695.6 638.6,1712.1 640.0,1705.1 641.4,1713.1 642.8,1701.4 644.3,1710.2 645.7,1706.7 647.1,1712.3 648.5,1707.6 649.9,1706.2 651.3,1710.3 652.7,1714.7 654.1,1713.7 655.5,1721.7 656.9,1713.6 658.3,1714.8 659.7,1724.4 661.2,1710.9 662.6,1713.8 664.0,1706.4 665.4,1711.0 666.8,1722.3 668.2,1714.5 669.6,1723.0 671.0,1703.6 672.4,1704.8 673.8,1715.1 675.2,1702.4 676.7,1727.1 678.1,1715.8 679.5,1694.0 680.9,1704.9 682.3,1702.6 683.7,1710.0 685.1,1707.7 686.5,1714.9 687.9,1718.7 689.3,1707.1 690.7,1700.0 692.1,1712.3 693.6,1705.0 695.0,1713.5 696.4,1705.2 697.8,1712.3 699.2,1709.4 700.6,1706.3 702.0,1705.0 703.4,1713.0 704.8,1724.7 706.2,1712.5 707.6,1704.2 709.0,1708.5 710.5,1703.0 711.9,1692.7 713.3,1702.6 714.7,1710.9 716.1,1699.3 717.5,1695.2 718.9,1707.4 720.3,1717.8 721.7,1713.0 723.1,1714.1 724.5,1722.7 725.9,1717.3 727.4,1709.7 728.8,1701.6 730.2,1701.9 731.6,1698.8 733.0,1704.0 734.4,1691.6 735.8,1706.7 737.2,1696.9 738.6,1693.1 740.0,1701.5 741.4,1683.0 742.9,1691.5 744.3,1692.4 745.7,1701.7 747.1,1692.5 748.5,1704.4 749.9,1690.8 751.3,1695.6 752.7,1686.0 754.1,1697.5 755.5,1687.7 756.9,1694.6 758.3,1689.3 759.8,1686.7 761.2,1692.8 762.6,1703.4 764.0,1690.5 765.4,1687.9 766.8,1696.1 768.2,1703.1 769.6,1690.7 771.0,1693.8 772.4,1698.4 773.8,1694.7 775.2,1698.7 776.7,1704.8 778.1,1697.4 779.5,1697.3 780.9,1703.3 782.3,1698.0 783.7,1692.0 785.1,1691.5 786.5,1690.7 787.9,1710.5 789.3,1697.3 790.7,1701.0 792.1,1701.5 793.6,1689.9 795.0,1699.4 796.4,1690.9 797.8,1680.5 799.2,1692.4 800.6,1688.3 802.0,1694.6 803.4,1701.2 804.8,1716.3 806.2,1700.2 807.6,1704.3 809.1,1708.8 810.5,1707.6 811.9,1704.2 813.3,1696.1 814.7,1694.6 816.1,1697.6 817.5,1689.5 818.9,1691.5 820.3,1686.6 821.7,1701.6 823.1,1683.6 824.5,1711.4 826.0,1687.8 827.4,1680.4 828.8,1682.7 830.2,1695.8 831.6,1698.7 833.0,1688.8 834.4,1699.7 835.8,1699.7 837.2,1701.5 838.6,1705.6 840.0,1709.8 841.4,1690.9 842.9,1686.8 844.3,1700.3 845.7,1695.9 847.1,1698.8 848.5,1681.8 849.9,1686.5 851.3,1703.8 852.7,1686.0 854.1,1697.9 855.5,1690.8 856.9,1693.6 858.3,1687.4 859.8,1704.5 861.2,1683.9 862.6,1687.8 864.0,1688.8 865.4,1701.6 866.8,1695.1 868.2,1696.9 869.6,1692.1 871.0,1693.9 872.4,1696.2 873.8,1704.1 875.3,1696.3 876.7,1685.4 878.1,1702.4 879.5,1694.6 880.9,1685.5 882.3,1690.5 883.7,1684.0 885.1,1703.1 886.5,1686.0 887.9,1674.4 889.3,1689.4 890.7,1682.2 892.2,1696.6 893.6,1689.5 895.0,1677.7 896.4,1685.4 897.8,1684.1 899.2,1686.8 900.6,1687.8 902.0,1678.6 903.4,1692.7 904.8,1684.8 906.2,1683.6 907.6,1693.2 909.1,1699.5 910.5,1681.5 911.9,1696.0 913.3,1668.8 914.7,1684.2 916.1,1674.5 917.5,1675.6 918.9,1667.3 920.3,1667.6 921.7,1667.3 923.1,1665.2 924.5,1668.6 926.0,1680.2 927.4,1660.0 928.8,1662.8 930.2,1652.1 931.6,1647.0 933.0,1672.8 934.4,1654.5 935.8,1657.8 937.2,1662.1 938.6,1666.9 940.0,1662.1 941.4,1671.8 942.9,1658.1 944.3,1647.2 945.7,1660.6 947.1,1659.5 948.5,1651.6 949.9,1651.8 951.3,1646.4 952.7,1657.4 954.1,1637.6 955.5,1628.2 956.9,1635.4 958.4,1618.4 959.8,1630.8 961.2,1628.7 962.6,1618.9 964.0,1619.4 965.4,1617.6 966.8,1630.3 968.2,1620.0 969.6,1607.0 971.0,1604.2 972.4,1609.3 973.8,1607.4 975.3,1600.6 976.7,1606.2 978.1,1601.9 979.5,1609.1 980.9,1601.8 982.3,1594.0 983.7,1590.1 985.1,1577.3 986.5,1583.0 987.9,1574.4 989.3,1564.9 990.7,1564.9 992.2,1557.5 993.6,1574.6 995.0,1552.1 996.4,1554.9 997.8,1551.0 999.2,1537.8 1000.6,1538.4 1002.0,1532.1 1003.4,1532.2 1004.8,1528.8 1006.2,1528.7 1007.6,1524.9 1009.1,1513.0 1010.5,1507.9 1011.9,1503.2 1013.3,1497.3 1014.7,1487.5 1016.1,1498.6 1017.5,1490.1 1018.9,1485.0 1020.3,1470.8 1021.7,1467.0 1023.1,1455.9 1024.6,1468.0 1026.0,1470.2 1027.4,1468.1 1028.8,1462.5 1030.2,1454.6 1031.6,1459.9 1033.0,1457.6 1034.4,1459.9 1035.8,1459.2 1037.2,1451.3 1038.6,1452.2 1040.0,1456.7 1041.5,1455.4 1042.9,1451.8 1044.3,1439.3 1045.7,1449.6 1047.1,1460.4 1048.5,1457.5 1049.9,1464.0 1051.3,1456.3 1052.7,1459.5 1054.1,1437.0 1055.5,1465.7 1056.9,1467.3 1058.4,1473.6 1059.8,1480.3 1061.2,1486.6 1062.6,1472.1 1064.0,1484.7 1065.4,1489.9 1066.8,1493.3 1068.2,1487.1 1069.6,1507.6 1071.0,1493.8 1072.4,1503.2 1073.8,1489.7 1075.3,1505.9 1076.7,1512.0 1078.1,1512.1 1079.5,1527.7 1080.9,1542.8 1082.3,1525.2 1083.7,1529.3 1085.1,1550.2 1086.5,1545.5 1087.9,1542.6 1089.3,1538.8 1090.8,1554.9 1092.2,1554.5 1093.6,1565.7 1095.0,1551.4 1096.4,1557.2 1097.8,1557.1 1099.2,1558.2 1100.6,1567.3 1102.0,1567.1 1103.4,1559.3 1104.8,1565.5 1106.2,1568.0 1107.7,1579.6 1109.1,1577.3 1110.5,1575.9 1111.9,1585.3 1113.3,1591.0 1114.7,1600.8 1116.1,1606.0 1117.5,1608.5 1118.9,1604.4 1120.3,1600.2 1121.7,1607.9 1123.1,1603.3 1124.6,1601.3 1126.0,1608.6 1127.4,1610.9 1128.8,1616.0 1130.2,1606.6 1131.6,1603.9 1133.0,1620.4 1134.4,1612.3 1135.8,1626.5 1137.2,1613.3 1138.6,1617.2 1140.0,1609.7 1141.5,1636.5 1142.9,1621.7 1144.3,1626.7 1145.7,1627.1 1147.1,1632.7 1148.5,1643.6 1149.9,1643.2 1151.3,1646.5 1152.7,1657.9 1154.1,1644.0 1155.5,1662.9 1157.0,1668.4 1158.4,1651.1 1159.8,1663.9 1161.2,1655.2 1162.6,1651.7 1164.0,1662.1 1165.4,1674.8 1166.8,1676.2 1168.2,1669.9 1169.6,1667.5 1171.0,1671.0 1172.4,1670.1 1173.9,1672.0 1175.3,1662.1 1176.7,1678.7 1178.1,1681.9 1179.5,1699.2 1180.9,1691.0 1182.3,1687.2 1183.7,1690.3 1185.1,1693.9 1186.5,1689.4 1187.9,1682.5 1189.3,1693.6 1190.8,1698.0 1192.2,1702.5 1193.6,1697.9 1195.0,1697.1 1196.4,1701.8 1197.8,1704.6 1199.2,1709.2 1200.6,1705.3 1202.0,1711.5 1203.4,1703.6 1204.8,1716.7 1206.2,1711.9 1207.7,1704.0 1209.1,1712.0 1210.5,1715.2 1211.9,1708.3 1213.3,1721.2 1214.7,1715.6 1216.1,1722.5 1217.5,1714.6 1218.9,1725.9 1220.3,1729.4 1221.7,1723.3 1223.1,1726.0 1224.6,1724.5 1226.0,1731.3 1227.4,1730.0 1228.8,1733.7 1230.2,1730.5 1231.6,1723.9 1233.0,1725.2 1234.4,1733.1 1235.8,1741.8 1237.2,1756.7 1238.6,1750.7 1240.1,1744.0 1241.5,1737.2 1242.9,1755.5 1244.3,1752.5 1245.7,1743.5 1247.1,1755.8 1248.5,1748.3 1249.9,1744.1 1251.3,1733.4 1252.7,1752.8 1254.1,1748.2 1255.5,1748.4 1257.0,1746.8 1258.4,1753.8 1259.8,1767.3 1261.2,1765.1 1262.6,1777.0 1264.0,1772.9 1265.4,1770.2 1266.8,1775.5 1268.2,1771.8 1269.6,1762.1 1271.0,1768.3 1272.4,1774.8 1273.9,1766.6 1275.3,1767.6 1276.7,1764.7 1278.1,1784.5 1279.5,1765.2 1280.9,1767.4 1282.3,1768.7 1283.7,1784.0 1285.1,1781.4 1286.5,1769.7 1287.9,1776.8 1289.3,1766.8 1290.8,1772.5 1292.2,1789.9 1293.6,1779.2 1295.0,1773.4 1296.4,1765.7 1297.8,1772.4 1299.2,1767.8 1300.6,1763.5 1302.0,1783.5 1303.4,1786.8 1304.8,1783.7 1306.3,1790.0 1307.7,1772.9 1309.1,1793.2 1310.5,1776.7 1311.9,1786.3 1313.3,1787.0 1314.7,1791.8 1316.1,1798.9 1317.5,1789.3 1318.9,1785.7 1320.3,1782.0 1321.7,1792.1 1323.2,1786.1 1324.6,1784.1 1326.0,1793.2 1327.4,1800.5 1328.8,1795.6 1330.2,1792.5 1331.6,1802.2 1333.0,1794.8 1334.4,1794.2 1335.8,1814.3 1337.2,1806.2 1338.6,1817.5 1340.1,1794.8 1341.5,1811.8 1342.9,1804.6 1344.3,1824.5 1345.7,1806.7 1347.1,1806.8 1348.5,1814.1 1349.9,1814.1 1351.3,1810.9 1352.7,1820.7 1354.1,1819.9 1355.5,1822.0 1357.0,1819.8 1358.4,1813.5 1359.8,1814.4 1361.2,1823.5 1362.6,1813.6 1364.0,1830.9 1365.4,1819.5 1366.8,1813.6 1368.2,1825.1 1369.6,1817.6 1371.0,1825.1 1372.5,1818.3 1373.9,1828.5 1375.3,1814.3 1376.7,1802.5 1378.1,1807.0 1379.5,1806.7 1380.9,1822.0 1382.3,1830.2 1383.7,1817.1 1385.1,1809.7 1386.5,1823.2 1387.9,1822.1 1389.4,1817.2 1390.8,1823.2 1392.2,1821.5 1393.6,1814.5 1395.0,1827.1 1396.4,1819.7 1397.8,1817.4 1399.2,1822.7 1400.6,1840.3 1402.0,1838.1 1403.4,1834.7 1404.8,1822.3 1406.3,1818.9 1407.7,1827.8 1409.1,1823.7 1410.5,1824.7 1411.9,1815.2 1413.3,1815.8 1414.7,1813.9 1416.1,1825.8 1417.5,1827.3 1418.9,1814.9 1420.3,1821.9 1421.7,1820.7 1423.2,1809.9 1424.6,1813.4 1426.0,1817.6 1427.4,1801.8 1428.8,1820.4 1430.2,1810.9 1431.6,1814.6 1433.0,1813.5 1434.4,1806.0 1435.8,1818.1 1437.2,1815.2 1438.7,1811.8 1440.1,1812.6 1441.5,1816.8 1442.9,1813.6 1444.3,1812.3 1445.7,1817.8 1447.1,1823.6 1448.5,1819.8 1449.9,1815.0 1451.3,1825.7 1452.7,1817.4 1454.1,1821.6 1455.6,1814.9 1457.0,1808.0 1458.4,1804.6 1459.8,1806.7 1461.2,1810.8 1462.6,1799.5 1464.0,1818.6 1465.4,1824.9 1466.8,1817.3 1468.2,1812.3 1469.6,1808.4 1471.0,1819.8 1472.5,1819.3 1473.9,1815.5 1475.3,1818.3 1476.7,1808.7 1478.1,1811.5 1479.5,1815.6 1480.9,1813.3 1482.3,1819.2 1483.7,1820.3 1485.1,1816.2 1486.5,1812.2 1487.9,1814.0 1489.4,1825.5 1490.8,1809.5 1492.2,1816.9 1493.6,1808.9 1495.0,1829.7 1496.4,1809.5 1497.8,1817.2 1499.2,1806.3 1500.6,1833.7 1502.0,1803.9 1503.4,1815.2 1504.8,1804.4 1506.3,1817.6 1507.7,1803.3 1509.1,1808.2 1510.5,1800.2 1511.9,1806.4 1513.3,1809.8 1514.7,1820.9 1516.1,1794.0 1517.5,1812.8 1518.9,1809.5 1520.3,1805.2 1521.8,1807.7 1523.2,1811.7 1524.6,1809.0 1526.0,1809.6 1527.4,1805.4 1528.8,1808.5 1530.2,1814.8 1531.6,1805.9 1533.0,1808.6 1534.4,1812.0 1535.8,1813.6 1537.2,1811.3 1538.7,1805.8 1540.1,1792.6 1541.5,1812.8 1542.9,1814.7 1544.3,1812.2 1545.7,1806.1 1547.1,1808.8 1548.5,1800.4 1549.9,1793.8 1551.3,1798.7 1552.7,1797.1 1554.1,1804.8 1555.6,1803.9 1557.0,1796.5 1558.4,1798.7 1559.8,1802.6 1561.2,1804.1 1562.6,1813.2 1564.0,1800.6 1565.4,1811.9 1566.8,1793.8 1568.2,1798.1 1569.6,1813.3 1571.0,1804.6 1572.5,1802.5 1573.9,1805.3 1575.3,1799.3 1576.7,1799.8 1578.1,1799.4 1579.5,1798.2 1580.9,1798.4 1582.3,1789.9 1583.7,1798.0 1585.1,1791.2 1586.5,1800.3 1588.0,1796.2 1589.4,1799.9 1590.8,1800.9 1592.2,1794.9 1593.6,1796.4 1595.0,1798.6 1596.4,1801.7 1597.8,1803.7 1599.2,1795.8 1600.6,1790.4 1602.0,1795.2 1603.4,1792.5 1604.9,1799.1 1606.3,1799.0 1607.7,1803.1 1609.1,1778.8 1610.5,1785.6 1611.9,1787.2 1613.3,1792.2 1614.7,1791.3 1616.1,1787.3 1617.5,1792.3 1618.9,1784.0 1620.3,1785.8 1621.8,1790.6 1623.2,1782.1 1624.6,1799.5 1626.0,1783.8 1627.4,1781.2 1628.8,1790.4 1630.2,1775.8 1631.6,1785.7 1633.0,1787.6 1634.4,1797.4 1635.8,1809.4 1637.2,1791.0 1638.7,1782.1 1640.1,1792.8 1641.5,1795.8 1642.9,1785.7 1644.3,1795.2 1645.7,1802.3 1647.1,1795.0 1648.5,1783.6 1649.9,1787.3 1651.3,1779.8 1652.7,1787.3 1654.2,1785.6 1655.6,1797.3 1657.0,1776.7 1658.4,1775.4 1659.8,1786.2 1661.2,1788.7 1662.6,1781.7 1664.0,1787.4 1665.4,1791.2 1666.8,1792.0 1668.2,1789.3 1669.6,1789.7 1671.1,1774.8 1672.5,1789.1 1673.9,1784.4 1675.3,1778.5 1676.7,1782.4 1678.1,1784.5 1679.5,1784.1 1680.9,1787.2 1682.3,1785.6 1683.7,1778.0 1685.1,1800.8 1686.5,1788.5 1688.0,1800.0 1689.4,1783.5 1690.8,1795.8 1692.2,1783.9 1693.6,1794.3 1695.0,1789.1 1696.4,1786.8 1697.8,1779.1 1699.2,1780.4 1700.6,1786.7 1702.0,1764.1 1703.4,1769.9 1704.9,1768.6 1706.3,1771.2 1707.7,1784.0 1709.1,1784.1 1710.5,1778.2 1711.9,1788.0 1713.3,1777.1 1714.7,1779.3 1716.1,1784.9 1717.5,1787.1 1718.9,1783.3 1720.4,1776.3 1721.8,1786.0 1723.2,1792.4 1724.6,1777.9 1726.0,1780.0 1727.4,1772.4 1728.8,1779.9 1730.2,1774.1 1731.6,1781.3 1733.0,1790.1 1734.4,1783.0 1735.8,1774.4 1737.3,1784.1 1738.7,1767.3 1740.1,1786.7 1741.5,1780.9 1742.9,1771.9 1744.3,1776.5 1745.7,1772.3 1747.1,1797.5 1748.5,1781.2 1749.9,1770.6 1751.3,1772.4 1752.7,1777.5 1754.2,1770.5 1755.6,1777.7 1757.0,1779.1 1758.4,1767.8 1759.8,1782.1 1761.2,1789.9 1762.6,1781.9 1764.0,1786.9 1765.4,1778.2 1766.8,1778.3 1768.2,1782.9 1769.6,1774.2 1771.1,1763.2 1772.5,1784.1 1773.9,1774.2 1775.3,1779.5 1776.7,1778.1 1778.1,1779.3 1779.5,1779.7 1780.9,1780.1 1782.3,1772.3 1783.7,1778.7 1785.1,1770.1 1786.5,1774.1 1788.0,1765.2 1789.4,1771.6 1790.8,1765.0 1792.2,1779.0 1793.6,1771.2 1795.0,1763.3 1796.4,1755.6 1797.8,1761.8 1799.2,1774.1 1800.6,1760.2 1802.0,1769.7 1803.5,1760.9 1804.9,1759.5 1806.3,1754.4 1807.7,1763.0 1809.1,1767.7 1810.5,1765.8 1811.9,1763.7 1813.3,1753.1 1814.7,1760.5 1816.1,1752.7 1817.5,1755.8 1818.9,1765.9 1820.4,1758.9 1821.8,1771.6 1823.2,1768.3 1824.6,1780.9 1826.0,1770.6 1827.4,1774.3 1828.8,1776.7 1830.2,1772.7 1831.6,1771.9 1833.0,1755.6 1834.4,1772.7 1835.8,1756.6 1837.3,1763.2 1838.7,1752.0 1840.1,1766.0 1841.5,1763.6 1842.9,1766.3 1844.3,1761.4 1845.7,1766.9 1847.1,1763.4 1848.5,1766.2 1849.9,1773.8 1851.3,1754.0 1852.7,1767.5 1854.2,1765.7 1855.6,1755.0 1857.0,1760.7 1858.4,1771.7 1859.8,1764.3 1861.2,1758.6 1862.6,1768.2 1864.0,1767.1 1865.4,1757.7 1866.8,1765.2 1868.2,1768.6 1869.7,1770.2 1871.1,1773.2 1872.5,1771.5 1873.9,1772.0 1875.3,1768.2 1876.7,1769.0 1878.1,1765.2 1879.5,1772.7 1880.9,1767.2 1882.3,1763.1 1883.7,1771.4 1885.1,1782.5 1886.6,1766.1 1888.0,1776.1 1889.4,1765.0 1890.8,1770.7 1892.2,1775.8 1893.6,1777.4 1895.0,1783.8 1896.4,1766.4 1897.8,1769.9 1899.2,1778.4 1900.6,1778.1 1902.0,1763.6 1903.5,1768.4 1904.9,1773.8 1906.3,1773.5 1907.7,1754.2 1909.1,1764.1 1910.5,1745.4 1911.9,1765.3 1913.3,1769.5 1914.7,1750.8 1916.1,1757.6 1917.5,1751.4 1918.9,1759.6 1920.4,1767.8 1921.8,1769.3 1923.2,1768.6 1924.6,1756.4 1926.0,1759.4 1927.4,1782.5 1928.8,1764.7 1930.2,1760.0 1931.6,1764.5 1933.0,1759.4 1934.4,1764.9 1935.9,1759.2 1937.3,1760.0 1938.7,1754.3 1940.1,1776.4 1941.5,1770.3 1942.9,1771.2 1944.3,1775.1 1945.7,1770.9 1947.1,1766.6 1948.5,1778.5 1949.9,1780.2 1951.3,1779.0 1952.8,1772.1 1954.2,1763.4 1955.6,1777.1 1957.0,1772.9 1958.4,1768.5 1959.8,1766.6 1961.2,1767.0 1962.6,1763.8 1964.0,1757.6 1965.4,1766.7 1966.8,1764.9 1968.2,1770.4 1969.7,1766.7 1971.1,1770.9 1972.5,1761.1 1973.9,1771.8 1975.3,1782.2 1976.7,1767.7 1978.1,1772.1 1979.5,1773.2 1980.9,1770.5 1982.3,1768.2 1983.7,1755.9 1985.1,1760.5 1986.6,1775.9 1988.0,1766.9 1989.4,1766.8 1990.8,1778.0 1992.2,1753.5 1993.6,1771.2 1995.0,1768.0 1996.4,1750.7 1997.8,1759.7 1999.2,1767.2 2000.6,1760.0 2002.1,1759.6 2003.5,1768.1 2004.9,1761.8 2006.3,1762.6 2007.7,1758.7 2009.1,1759.4 2010.5,1759.9 2011.9,1772.7 2013.3,1762.0 2014.7,1756.4 2016.1,1765.4 2017.5,1766.4 2019.0,1788.3 2020.4,1758.7 2021.8,1774.1 2023.2,1772.4 2024.6,1781.7 2026.0,1765.2 2027.4,1763.6 2028.8,1774.6 2030.2,1775.8 2031.6,1772.6 2033.0,1773.5 2034.4,1768.8 2035.9,1775.8 2037.3,1769.9 2038.7,1765.2 2040.1,1777.4 2041.5,1761.3 2042.9,1755.8 2044.3,1763.5 2045.7,1765.6 2047.1,1767.1 2048.5,1766.9 2049.9,1772.4 2051.3,1768.1 2052.8,1764.5 2054.2,1779.0 2055.6,1767.9 2057.0,1775.3 2058.4,1768.7 2059.8,1769.3 2061.2,1775.7 2062.6,1753.0 2064.0,1772.6 2065.4,1765.4 2066.8,1770.3 2068.2,1760.6 2069.7,1762.6 2071.1,1760.5 2072.5,1753.1 2073.9,1758.9 2075.3,1770.4 2076.7,1770.7 2078.1,1767.8 2079.5,1758.1 2080.9,1759.3 2082.3,1759.7 2083.7,1750.6 2085.2,1764.0 2086.6,1762.0 2088.0,1773.7 2089.4,1774.5 2090.8,1771.3 2092.2,1762.1 2093.6,1763.3 2095.0,1775.1 2096.4,1767.6 2097.8,1771.6 2099.2,1761.9 2100.6,1771.3 2102.1,1763.2 2103.5,1762.8 2104.9,1768.4 2106.3,1759.9 2107.7,1759.8 2109.1,1776.8 2110.5,1772.8 2111.9,1765.2 2113.3,1768.2 2114.7,1775.7 2116.1,1764.6 2117.5,1751.4 2119.0,1781.7 2120.4,1756.6 2121.8,1762.7 2123.2,1750.5 2124.6,1749.6 2126.0,1765.4 2127.4,1753.2 2128.8,1764.2 2130.2,1756.9 2131.6,1755.1 2133.0,1759.1 2134.4,1760.9 2135.9,1763.5 2137.3,1745.9 2138.7,1750.8 2140.1,1760.8 2141.5,1762.2 2142.9,1754.6 2144.3,1751.3 2145.7,1760.7 2147.1,1742.1 2148.5,1752.4 2149.9,1772.4 2151.4,1757.5 2152.8,1779.9 2154.2,1766.7 2155.6,1766.6 2157.0,1781.5 2158.4,1768.5 2159.8,1759.4 2161.2,1755.3 2162.6,1756.0 2164.0,1746.2 2165.4,1761.9 2166.8,1759.3 2168.3,1754.4 2169.7,1764.8 2171.1,1755.6 2172.5,1749.0 2173.9,1755.0 2175.3,1764.0 2176.7,1768.4 2178.1,1780.1 2179.5,1765.8 2180.9,1771.5 2182.3,1773.2 2183.7,1767.9 2185.2,1762.9 2186.6,1750.5 2188.0,1753.1 2189.4,1768.7 2190.8,1755.2 2192.2,1754.5 2193.6,1748.5 2195.0,1759.5 2196.4,1770.7 2197.8,1756.5"/>
<polyline stroke="#800080" stroke-width="8" points="171.0,1279.7 172.4,1271.1 173.8,1269.5 175.2,1250.5 176.6,1268.8 178.0,1268.9 179.5,1270.9 180.9,1266.8 182.3,1269.9 183.7,1264.1 185.1,1258.6 186.5,1272.6 187.9,1271.6 189.3,1282.6 190.7,1264.8 192.1,1261.3 193.5,1259.9 194.9,1252.4 196.4,1269.3 197.8,1254.5 199.2,1253.7 200.6,1260.9 202.0,1273.1 203.4,1264.9 204.8,1256.4 206.2,1258.4 207.6,1267.2 209.0,1261.0 210.4,1255.7 211.8,1258.5 213.3,1264.6 214.7,1274.0 216.1,1253.1 217.5,1258.7 218.9,1258.8 220.3,1248.6 221.7,1259.6 223.1,1259.4 224.5,1274.8 225.9,1267.0 227.3,1258.0 228.7,1275.3 230.2,1270.2 231.6,1262.2 233.0,1271.2 234.4,1269.7 235.8,1269.4 237.2,1274.7 238.6,1258.1 240.0,1271.5 241.4,1281.1 242.8,1281.6 244.2,1285.3 245.7,1287.3 247.1,1291.2 248.5,1273.8 249.9,1286.9 251.3,1267.4 252.7,1275.3 254.1,1265.9 255.5,1286.8 256.9,1290.5 258.3,1282.0 259.7,1297.7 261.1,1282.7 262.6,1290.1 264.0,1291.7 265.4,1284.8 266.8,1296.8 268.2,1309.2 269.6,1291.1 271.0,1306.4 272.4,1301.0 273.8,1315.8 275.2,1308.3 276.6,1310.6 278.0,1311.1 279.5,1308.9 280.9,1298.2 282.3,1318.0 283.7,1299.6 285.1,1311.3 286.5,1314.7 287.9,1305.5 289.3,1313.2 290.7,1321.2 292.1,1314.0 293.5,1309.3 294.9,1296.6 296.4,1311.4 297.8,1315.5 299.2,1318.0 300.6,1316.8 302.0,1328.0 303.4,1323.2 304.8,1328.1 306.2,1334.9 307.6,1322.4 309.0,1330.0 310.4,1348.0 311.9,1340.1 313.3,1326.1 314.7,1335.3 316.1,1340.6 317.5,1346.0 318.9,1339.6 320.3,1336.1 321.7,1335.9 323.1,1346.5 324.5,1345.2 325.9,1340.7 327.3,1344.4 328.8,1344.3 330.2,1353.4 331.6,1344.6 333.0,1353.6 334.4,1356.5 335.8,1354.1 337.2,1345.0 338.6,1359.8 340.0,1345.7 341.4,1353.4 342.8,1345.7 344.2,1339.6 345.7,1354.0 347.1,1355.0 348.5,1353.1 349.9,1356.3 351.3,1350.6 352.7,1350.6 354.1,1355.1 355.5,1370.1 356.9,1363.1 358.3,1354.1 359.7,1361.4 361.1,1353.7 362.6,1353.1 364.0,1361.5 365.4,1351.6 366.8,1343.9 368.2,1350.2 369.6,1358.0 371.0,1358.9 372.4,1366.5 373.8,1352.3 375.2,1360.8 376.6,1356.6 378.0,1350.5 379.5,1355.5 380.9,1352.1 382.3,1342.4 383.7,1356.3 385.1,1341.6 386.5,1351.6 387.9,1352.0 389.3,1355.4 390.7,1347.9 392.1,1352.9 393.5,1352.0 395.0,1359.3 396.4,1346.0 397.8,1350.7 399.2,1346.7 400.6,1337.7 402.0,1363.5 403.4,1343.3 404.8,1332.3 406.2,1351.3 407.6,1333.5 409.0,1343.0 410.4,1346.0 411.9,1335.1 413.3,1336.0 414.7,1334.3 416.1,1335.9 417.5,1324.3 418.9,1325.7 420.3,1332.2 421.7,1339.5 423.1,1336.2 424.5,1343.7 425.9,1336.9 427.3,1329.0 428.8,1332.1 430.2,1318.8 431.6,1325.7 433.0,1324.2 434.4,1331.8 435.8,1332.6 437.2,1322.3 438.6,1318.3 440.0,1311.9 441.4,1320.1 442.8,1321.4 444.2,1321.5 445.7,1311.9 447.1,1329.9 448.5,1323.0 449.9,1312.3 451.3,1307.2 452.7,1306.3 454.1,1306.7 455.5,1302.9 456.9,1304.2 458.3,1304.4 459.7,1307.0 461.2,1304.3 462.6,1294.5 464.0,1296.6 465.4,1288.1 466.8,1286.0 468.2,1301.0 469.6,1282.4 471.0,1297.1 472.4,1278.6 473.8,1280.5 475.2,1284.1 476.6,1274.5 478.1,1274.3 479.5,1266.5 480.9,1261.3 482.3,1259.9 483.7,1251.1 485.1,1266.3 486.5,1251.4 487.9,1261.9 489.3,1229.0 490.7,1245.1 492.1,1246.3 493.5,1237.5 495.0,1243.8 496.4,1237.0 497.8,1226.6 499.2,1227.1 500.6,1239.2 502.0,1217.2 503.4,1213.5 504.8,1204.6 506.2,1204.9 507.6,1191.8 509.0,1196.6 510.4,1212.5 511.9,1200.9 513.3,1196.1 514.7,1197.6 516.1,1201.2 517.5,1189.7 518.9,1197.0 520.3,1186.8 521.7,1176.8 523.1,1183.3 524.5,1150.9 525.9,1158.9 527.4,1160.8 528.8,1149.4 530.2,1151.3 531.6,1146.2 533.0,1144.1 534.4,1165.4 535.8,1149.0 537.2,1142.1 538.6,1148.3 540.0,1134.2 541.4,1138.4 542.8,1130.8 544.3,1135.1 545.7,1109.2 547.1,1119.0 548.5,1109.1 549.9,1094.7 551.3,1104.7 552.7,1086.7 554.1,1100.0 555.5,1089.4 556.9,1088.0 558.3,1080.7 559.7,1082.8 561.2,1059.3 562.6,1067.6 564.0,1057.3 565.4,1058.1 566.8,1051.0 568.2,1051.4 569.6,1037.4 571.0,1051.9 572.4,1051.3 573.8,1029.4 575.2,1025.5 576.6,1021.3 578.1,1021.2 579.5,1018.3 580.9,989.2 582.3,986.0 583.7,976.5 585.1,970.7 586.5,962.3 587.9,971.7 589.3,957.0 590.7,971.2 592.1,962.7 593.6,944.5 595.0,939.1 596.4,936.0 597.8,943.8 599.2,922.1 600.6,911.6 602.0,915.3 603.4,912.1 604.8,899.2 606.2,909.1 607.6,893.9 609.0,891.1 610.5,873.2 611.9,870.8 613.3,861.8 614.7,839.0 616.1,852.2 617.5,834.5 618.9,844.0 620.3,831.9 621.7,854.1 623.1,840.5 624.5,842.1 625.9,840.0 627.4,821.8 628.8,812.1 630.2,819.9 631.6,822.1 633.0,810.0 634.4,807.9 635.8,801.6 637.2,777.1 638.6,782.3 640.0,791.8 641.4,759.9 642.8,742.6 644.3,748.1 645.7,740.0 647.1,739.6 648.5,723.8 649.9,723.5 651.3,700.2 652.7,713.8 654.1,716.7 655.5,701.6 656.9,674.4 658.3,681.1 659.7,649.9 661.2,665.3 662.6,656.2 664.0,643.7 665.4,647.4 666.8,641.0 668.2,641.6 669.6,630.7 671.0,626.0 672.4,605.3 673.8,604.7 675.2,602.9 676.7,601.5 678.1,593.6 679.5,598.0 680.9,575.6 682.3,573.9 683.7,571.1 685.1,561.7 686.5,560.7 687.9,547.8 689.3,556.3 690.7,539.4 692.1,544.6 693.6,532.2 695.0,538.1 696.4,513.6 697.8,522.1 699.2,510.6 700.6,511.1 702.0,513.4 703.4,492.8 704.8,486.9 706.2,484.5 707.6,488.3 709.0,461.9 710.5,476.7 711.9,461.5 713.3,456.8 714.7,456.7 716.1,456.7 717.5,444.9 718.9,441.4 720.3,440.4 721.7,435.9 723.1,416.5 724.5,429.0 725.9,429.6 727.4,433.6 728.8,437.2 730.2,424.8 731.6,418.1 733.0,408.6 734.4,413.6 735.8,415.8 737.2,416.4 738.6,398.7 740.0,403.4 741.4,404.2 742.9,409.3 744.3,395.9 745.7,387.7 747.1,383.8 748.5,383.2 749.9,378.5 751.3,386.3 752.7,385.7 754.1,381.1 755.5,382.1 756.9,369.5 758.3,374.2 759.8,368.1 761.2,370.6 762.6,378.6 764.0,370.1 765.4,358.0 766.8,369.5 768.2,366.4 769.6,360.6 771.0,365.4 772.4,380.6 773.8,387.7 775.2,366.5 776.7,376.1 778.1,376.1 779.5,354.2 780.9,363.6 782.3,361.4 783.7,360.9 785.1,348.8 786.5,358.6 787.9,374.2 789.3,374.9 790.7,382.2 792.1,370.5 793.6,388.6 795.0,382.9 796.4,371.3 797.8,387.7 799.2,381.5 800.6,390.9 802.0,386.6 803.4,397.9 804.8,393.8 806.2,392.9 807.6,404.4 809.1,402.1 810.5,399.4 811.9,417.0 813.3,402.2 814.7,401.6 816.1,403.4 817.5,398.3 818.9,406.4 820.3,425.1 821.7,408.1 823.1,416.5 824.5,410.9 826.0,414.3 827.4,434.3 828.8,433.5 830.2,426.8 831.6,434.7 833.0,432.6 834.4,436.4 835.8,438.8 837.2,442.4 838.6,454.4 840.0,459.8 841.4,462.8 842.9,462.3 844.3,453.7 845.7,472.0 847.1,471.3 848.5,489.4 849.9,493.0 851.3,500.0 852.7,497.6 854.1,491.9 855.5,513.8 856.9,518.1 858.3,501.7 859.8,515.6 861.2,525.0 862.6,512.5 864.0,535.7 865.4,525.0 866.8,524.0 868.2,544.6 869.6,540.5 871.0,534.9 872.4,550.7 873.8,533.9 875.3,562.3 876.7,546.9 878.1,557.4 879.5,555.9 880.9,565.1 882.3,571.8 883.7,563.7 885.1,578.5 886.5,574.6 887.9,575.3 889.3,581.7 890.7,579.7 892.2,584.9 893.6,601.0 895.0,597.9 896.4,611.5 897.8,611.6 899.2,606.3 900.6,604.7 902.0,617.2 903.4,627.9 904.8,630.4 906.2,628.6 907.6,644.9 909.1,629.5 910.5,636.4 911.9,649.5 913.3,667.6 914.7,659.1 916.1,652.5 917.5,666.8 918.9,670.7 920.3,675.6 921.7,669.2 923.1,669.2 924.5,678.6 926.0,683.8 927.4,695.0 928.8,701.5 930.2,685.3 931.6,690.1 933.0,696.6 934.4,698.8 935.8,707.5 937.2,711.3 938.6,714.3 940.0,724.9 941.4,718.3 942.9,715.9 944.3,716.2 945.7,723.9 947.1,728.3 948.5,727.0 949.9,749.0 951.3,750.0 952.7,749.8 954.1,750.1 955.5,748.7 956.9,756.4 958.4,778.7 959.8,754.1 961.2,774.2 962.6,782.6 964.0,783.1 965.4,785.0 966.8,797.2 968.2,788.7 969.6,804.3 971.0,814.2 972.4,800.4 973.8,804.6 975.3,813.8 976.7,822.3 978.1,827.7 979.5,826.5 980.9,820.9 982.3,821.5 983.7,833.9 985.1,837.5 986.5,829.1 987.9,838.6 989.3,841.9 990.7,848.2 992.2,835.8 993.6,848.9 995.0,840.3 996.4,849.5 997.8,856.3 999.2,871.4 1000.6,887.6 1002.0,870.0 1003.4,875.1 1004.8,882.0 1006.2,869.0 1007.6,887.0 1009.1,875.9 1010.5,898.0 1011.9,899.1 1013.3,895.2 1014.7,889.1 1016.1,909.4 1017.5,903.2 1018.9,906.1 1020.3,913.5 1021.7,901.5 1023.1,919.8 1024.6,926.8 1026.0,925.0 1027.4,926.4 1028.8,921.7 1030.2,936.0 1031.6,936.7 1033.0,939.6 1034.4,939.8 1035.8,953.5 1037.2,959.1 1038.6,954.7 1040.0,962.0 1041.5,962.2 1042.9,969.9 1044.3,955.8 1045.7,954.3 1047.1,955.5 1048.5,961.9 1049.9,971.6 1051.3,976.4 1052.7,970.7 1054.1,977.9 1055.5,971.2 1056.9,987.9 1058.4,977.4 1059.8,983.8 1061.2,977.7 1062.6,982.4 1064.0,981.9 1065.4,1000.9 1066.8,994.2 1068.2,993.2 1069.6,990.4 1071.0,995.2 1072.4,1005.7 1073.8,1015.8 1075.3,997.2 1076.7,1003.6 1078.1,1011.8 1079.5,1011.5 1080.9,1007.1 1082.3,1021.4 1083.7,1029.1 1085.1,1015.5 1086.5,1030.2 1087.9,1037.7 1089.3,1040.1 1090.8,1032.7 1092.2,1053.7 1093.6,1045.7 1095.0,1036.9 1096.4,1052.0 1097.8,1040.2 1099.2,1057.0 1100.6,1044.9 1102.0,1061.9 1103.4,1055.2 1104.8,1069.9 1106.2,1070.2 1107.7,1071.0 1109.1,1070.8 1110.5,1080.2 1111.9,1062.5 1113.3,1080.2 1114.7,1082.3 1116.1,1085.5 1117.5,1089.9 1118.9,1112.7 1120.3,1091.1 1121.7,1101.5 1123.1,1096.8 1124.6,1109.0 1126.0,1086.2 1127.4,1113.5 1128.8,1098.3 1130.2,1088.6 1131.6,1098.1 1133.0,1105.8 1134.4,1110.2 1135.8,1110.4 1137.2,1120.8 1138.6,1113.5 1140.0,1114.6 1141.5,1101.5 1142.9,1120.8 1144.3,1125.7 1145.7,1117.2 1147.1,1108.6 1148.5,1114.0 1149.9,1136.7 1151.3,1123.3 1152.7,1125.3 1154.1,1126.6 1155.5,1141.7 1157.0,1133.3 1158.4,1134.1 1159.8,1127.6 1161.2,1145.5 1162.6,1155.8 1164.0,1149.7 1165.4,1157.9 1166.8,1153.6 1168.2,1153.6 1169.6,1153.8 1171.0,1153.1 1172.4,1161.0 1173.9,1159.2 1175.3,1154.4 1176.7,1162.4 1178.1,1164.2 1179.5,1170.6 1180.9,1170.5 1182.3,1173.7 1183.7,1161.8 1185.1,1175.3 1186.5,1182.1 1187.9,1163.9 1189.3,1184.6 1190.8,1176.1 1192.2,1173.3 1193.6,1163.2 1195.0,1184.3 1196.4,1171.4 1197.8,1176.3 1199.2,1185.6 1200.6,1177.1 1202.0,1179.9 1203.4,1181.5 1204.8,1191.3 1206.2,1200.7 1207.7,1199.5 1209.1,1201.3 1210.5,1196.3 1211.9,1201.9 1213.3,1197.6 1214.7,1217.7 1216.1,1207.2 1217.5,1194.4 1218.9,1202.6 1220.3,1222.8 1221.7,1204.1 1223.1,1212.1 1224.6,1219.4 1226.0,1210.3 1227.4,1226.4 1228.8,1232.0 1230.2,1216.3 1231.6,1231.2 1233.0,1218.5 1234.4,1218.7 1235.8,1228.8 1237.2,1229.3 1238.6,1223.5 1240.1,1234.5 1241.5,1220.0 1242.9,1226.1 1244.3,1226.8 1245.7,1241.8 1247.1,1244.0 1248.5,1244.4 1249.9,1231.6 1251.3,1241.9 1252.7,1246.1 1254.1,1230.7 1255.5,1236.7 1257.0,1247.3 1258.4,1248.1 1259.8,1245.8 1261.2,1248.7 1262.6,1248.3 1264.0,1248.5 1265.4,1248.5 1266.8,1245.5 1268.2,1252.5 1269.6,1254.2 1271.0,1275.5 1272.4,1263.5 1273.9,1263.3 1275.3,1263.3 1276.7,1265.4 1278.1,1265.8 1279.5,1272.9 1280.9,1270.4 1282.3,1277.5 1283.7,1268.3 1285.1,1276.6 1286.5,1281.2 1287.9,1268.1 1289.3,1278.2 1290.8,1279.7 1292.2,1276.4 1293.6,1276.1 1295.0,1267.4 1296.4,1288.9 1297.8,1275.3 1299.2,1274.2 1300.6,1290.9 1302.0,1273.1 1303.4,1294.3 1304.8,1292.6 1306.3,1297.6 1307.7,1291.8 1309.1,1285.7 1310.5,1281.8 1311.9,1305.3 1313.3,1292.4 1314.7,1292.6 1316.1,1307.9 1317.5,1293.8 1318.9,1298.0 1320.3,1299.7 1321.7,1302.0 1323.2,1297.4 1324.6,1302.2 1326.0,1316.3 1327.4,1313.7 1328.8,1288.6 1330.2,1296.1 1331.6,1312.3 1333.0,1309.7 1334.4,1308.5 1335.8,1319.1 1337.2,1300.5 1338.6,1322.1 1340.1,1315.8 1341.5,1320.1 1342.9,1319.7 1344.3,1325.4 1345.7,1319.7 1347.1,1319.8 1348.5,1331.2 1349.9,1329.4 1351.3,1322.0 1352.7,1342.0 1354.1,1342.1 1355.5,1344.0 1357.0,1334.1 1358.4,1334.9 1359.8,1328.6 1361.2,1323.3 1362.6,1329.6 1364.0,1329.8 1365.4,1324.2 1366.8,1342.6 1368.2,1320.6 1369.6,1328.2 1371.0,1331.3 1372.5,1346.6 1373.9,1337.5 1375.3,1338.2 1376.7,1335.0 1378.1,1336.2 1379.5,1332.8 1380.9,1349.1 1382.3,1347.3 1383.7,1351.5 1385.1,1342.1 1386.5,1366.3 1387.9,1344.4 1389.4,1338.9 1390.8,1352.3 1392.2,1355.9 1393.6,1360.5 1395.0,1348.2 1396.4,1359.2 1397.8,1367.0 1399.2,1349.7 1400.6,1351.4 1402.0,1346.2 1403.4,1361.2 1404.8,1367.0 1406.3,1367.7 1407.7,1369.1 1409.1,1373.8 1410.5,1365.4 1411.9,1371.7 1413.3,1359.4 1414.7,1362.1 1416.1,1371.5 1417.5,1366.9 1418.9,1379.4 1420.3,1387.5 1421.7,1382.7 1423.2,1376.1 1424.6,1376.8 1426.0,1392.0 1427.4,1377.7 1428.8,1384.6 1430.2,1383.6 1431.6,1387.6 1433.0,1396.8 1434.4,1387.3 1435.8,1377.9 1437.2,1403.7 1438.7,1396.5 1440.1,1401.5 1441.5,1397.9 1442.9,1404.9 1444.3,1409.6 1445.7,1411.4 1447.1,1400.9 1448.5,1400.5 1449.9,1406.7 1451.3,1404.0 1452.7,1406.4 1454.1,1398.1 1455.6,1388.0 1457.0,1408.7 1458.4,1413.0 1459.8,1414.1 1461.2,1428.5 1462.6,1418.8 1464.0,1411.3 1465.4,1421.3 1466.8,1414.5 1468.2,1424.2 1469.6,1418.4 1471.0,1421.4 1472.5,1422.0 1473.9,1423.5 1475.3,1415.9 1476.7,1429.0 1478.1,1415.4 1479.5,1435.8 1480.9,1440.3 1482.3,1448.3 1483.7,1437.9 1485.1,1431.5 1486.5,1426.9 1487.9,1452.3 1489.4,1431.5 1490.8,1451.8 1492.2,1429.0 1493.6,1445.7 1495.0,1452.0 1496.4,1450.6 1497.8,1449.0 1499.2,1444.3 1500.6,1444.3 1502.0,1457.6 1503.4,1454.4 1504.8,1451.0 1506.3,1454.1 1507.7,1447.3 1509.1,1461.2 1510.5,1463.9 1511.9,1451.6 1513.3,1459.0 1514.7,1467.0 1516.1,1457.6 1517.5,1477.2 1518.9,1475.1 1520.3,1464.1 1521.8,1472.7 1523.2,1477.2 1524.6,1457.8 1526.0,1470.3 1527.4,1466.0 1528.8,1467.1 1530.2,1477.9 1531.6,1470.8 1533.0,1468.3 1534.4,1472.1 1535.8,1484.8 1537.2,1491.7 1538.7,1489.0 1540.1,1488.9 1541.5,1489.6 1542.9,1497.6 1544.3,1491.6 1545.7,1482.4 1547.1,1485.2 1548.5,1495.6 1549.9,1485.3 1551.3,1488.6 1552.7,1493.2 1554.1,1488.0 1555.6,1504.8 1557.0,1482.4 1558.4,1506.7 1559.8,1494.9 1561.2,1490.0 1562.6,1500.8 1564.0,1489.0 1565.4,1504.9 1566.8,1507.4 1568.2,1499.0 1569.6,1499.9 1571.0,1508.0 1572.5,1497.0 1573.9,1501.5 1575.3,1504.4 1576.7,1513.9 1578.1,1502.7 1579.5,1508.7 1580.9,1518.2 1582.3,1496.3 1583.7,1512.1 1585.1,1501.9 1586.5,1502.3 1588.0,1532.7 1589.4,1514.7 1590.8,1522.8 1592.2,1512.1 1593.6,1518.4 1595.0,1513.9 1596.4,1515.4 1597.8,1520.7 1599.2,1524.3 1600.6,1535.4 1602.0,1525.9 1603.4,1530.5 1604.9,1526.3 1606.3,1527.9 1607.7,1517.6 1609.1,1532.5 1610.5,1522.0 1611.9,1526.1 1613.3,1525.7 1614.7,1535.3 1616.1,1534.8 1617.5,1534.2 1618.9,1538.1 1620.3,1540.3 1621.8,1544.1 1623.2,1543.4 1624.6,1549.2 1626.0,1552.2 1627.4,1546.9 1628.8,1536.0 1630.2,1557.4 1631.6,1562.2 1633.0,1548.6 1634.4,1550.6 1635.8,1542.0 1637.2,1561.3 1638.7,1550.7 1640.1,1569.0 1641.5,1541.9 1642.9,1557.9 1644.3,1561.7 1645.7,1555.1 1647.1,1552.9 1648.5,1559.7 1649.9,1555.0 1651.3,1556.4 1652.7,1558.6 1654.2,1555.7 1655.6,1558.3 1657.0,1565.1 1658.4,1558.1 1659.8,1561.7 1661.2,1555.8 1662.6,1566.1 1664.0,1552.5 1665.4,1567.1 1666.8,1543.2 1668.2,1558.0 1669.6,1555.6 1671.1,1573.7 1672.5,1571.8 1673.9,1562.8 1675.3,1567.2 1676.7,1582.4 1678.1,1575.2 1679.5,1580.7 1680.9,1569.6 1682.3,1571.5 1683.7,1586.2 1685.1,1598.5 1686.5,1581.9 1688.0,1589.4 1689.4,1580.1 1690.8,1593.8 1692.2,1583.3 1693.6,1583.3 1695.0,1574.2 1696.4,1582.1 1697.8,1587.8 1699.2,1596.1 1700.6,1581.5 1702.0,1595.9 1703.4,1588.5 1704.9,1589.2 1706.3,1584.9 1707.7,1579.8 1709.1,1582.5 1710.5,1604.9 1711.9,1583.0 1713.3,1588.4 1714.7,1599.0 1716.1,1580.3 1717.5,1597.1 1718.9,1591.8 1720.4,1596.3 1721.8,1600.3 1723.2,1593.4 1724.6,1592.3 1726.0,1597.4 1727.4,1596.5 1728.8,1588.1 1730.2,1591.6 1731.6,1585.1 1733.0,1602.2 1734.4,1584.5 1735.8,1599.2 1737.3,1611.2 1738.7,1607.8 1740.1,1603.0 1741.5,1601.8 1742.9,1603.4 1744.3,1616.0 1745.7,1610.1 1747.1,1608.2 1748.5,1624.7 1749.9,1604.7 1751.3,1608.3 1752.7,1610.8 1754.2,1616.1 1755.6,1617.9 1757.0,1615.0 1758.4,1621.4 1759.8,1620.2 1761.2,1613.9 1762.6,1601.7 1764.0,1621.4 1765.4,1610.9 1766.8,1613.0 1768.2,1616.6 1769.6,1610.7 1771.1,1614.1 1772.5,1620.2 1773.9,1617.4 1775.3,1623.6 1776.7,1617.5 1778.1,1622.3 1779.5,1618.1 1780.9,1623.8 1782.3,1628.6 1783.7,1626.8 1785.1,1620.8 1786.5,1629.3 1788.0,1632.0 1789.4,1641.2 1790.8,1630.7 1792.2,1628.1 1793.6,1623.5 1795.0,1642.7 1796.4,1625.0 1797.8,1624.1 1799.2,1630.1 1800.6,1619.7 1802.0,1636.4 1803.5,1630.2 1804.9,1631.4 1806.3,1622.1 1807.7,1624.9 1809.1,1633.6 1810.5,1634.7 1811.9,1647.1 1813.3,1637.0 1814.7,1619.1 1816.1,1631.1 1817.5,1628.6 1818.9,1637.8 1820.4,1631.3 1821.8,1635.7 1823.2,1631.9 1824.6,1638.4 1826.0,1644.2 1827.4,1630.3 1828.8,1624.1 1830.2,1630.4 1831.6,1646.4 1833.0,1639.5 1834.4,1636.6 1835.8,1633.2 1837.3,1645.9 1838.7,1641.7 1840.1,1639.6 1841.5,1637.2 1842.9,1639.8 1844.3,1639.2 1845.7,1645.0 1847.1,1649.9 1848.5,1631.2 1849.9,1630.5 1851.3,1643.8 1852.7,1645.2 1854.2,1635.5 1855.6,1641.1 1857.0,1642.3 1858.4,1642.1 1859.8,1642.4 1861.2,1645.2 1862.6,1651.4 1864.0,1650.7 1865.4,1649.8 1866.8,1647.5 1868.2,1640.8 1869.7,1641.2 1871.1,1647.3 1872.5,1642.8 1873.9,1646.2 1875.3,1642.4 1876.7,1640.6 1878.1,1642.5 1879.5,1630.4 1880.9,1638.7 1882.3,1636.5 1883.7,1645.9 1885.1,1638.0 1886.6,1644.7 1888.0,1641.9 1889.4,1648.1 1890.8,1649.8 1892.2,1643.8 1893.6,1644.8 1895.0,1644.3 1896.4,1647.4 1897.8,1640.9 1899.2,1643.6 1900.6,1641.7 1902.0,1639.3 1903.5,1646.8 1904.9,1648.6 1906.3,1641.2 1907.7,1655.0 1909.1,1640.1 1910.5,1647.8 1911.9,1644.3 1913.3,1630.7 1914.7,1639.9 1916.1,1630.1 1917.5,1638.9 1918.9,1644.4 1920.4,1652.9 1921.8,1648.2 1923.2,1636.0 1924.6,1644.1 1926.0,1655.5 1927.4,1647.2 1928.8,1656.2 1930.2,1640.4 1931.6,1640.4 1933.0,1634.8 1934.4,1640.0 1935.9,1649.4 1937.3,1635.9 1938.7,1645.9 1940.1,1642.9 1941.5,1643.9 1942.9,1636.9 1944.3,1638.3 1945.7,1651.1 1947.1,1630.9 1948.5,1642.8 1949.9,1647.3 1951.3,1640.8 1952.8,1648.1 1954.2,1611.3 1955.6,1636.6 1957.0,1631.5 1958.4,1636.4 1959.8,1638.8 1961.2,1643.1 1962.6,1635.8 1964.0,1646.5 1965.4,1631.9 1966.8,1647.2 1968.2,1640.2 1969.7,1631.5 1971.1,1631.9 1972.5,1632.3 1973.9,1637.7 1975.3,1645.0 1976.7,1652.7 1978.1,1649.7 1979.5,1636.9 1980.9,1630.9 1982.3,1642.7 1983.7,1636.0 1985.1,1643.6 1986.6,1640.6 1988.0,1660.1 1989.4,1634.1 1990.8,1645.8 1992.2,1654.3 1993.6,1639.9 1995.0,1636.9 1996.4,1651.2 1997.8,1628.2 1999.2,1630.7 2000.6,1633.7 2002.1,1643.5 2003.5,1645.7 2004.9,1640.4 2006.3,1654.3 2007.7,1639.7 2009.1,1640.5 2010.5,1637.9 2011.9,1646.5 2013.3,1638.4 2014.7,1635.2 2016.1,1647.0 2017.5,1644.3 2019.0,1642.7 2020.4,1629.6 2021.8,1632.0 2023.2,1638.3 2024.6,1639.5 2026.0,1638.0 2027.4,1641.5 2028.8,1647.1 2030.2,1637.0 2031.6,1644.3 2033.0,1640.0 2034.4,1639.1 2035.9,1640.2 2037.3,1646.6 2038.7,1644.3 2040.1,1638.8 2041.5,1646.6 2042.9,1646.5 2044.3,1649.3 2045.7,1646.1 2047.1,1654.4 2048.5,1651.3 2049.9,1642.6 2051.3,1642.0 2052.8,1641.0 2054.2,1651.4 2055.6,1644.1 2057.0,1645.4 2058.4,1646.1 2059.8,1656.6 2061.2,1657.9 2062.6,1643.4 2064.0,1655.8 2065.4,1647.5 2066.8,1652.5 2068.2,1645.2 2069.7,1641.3 2071.1,1655.2 2072.5,1660.6 2073.9,1639.9 2075.3,1654.1 2076.7,1655.3 2078.1,1656.4 2079.5,1644.7 2080.9,1646.2 2082.3,1653.9 2083.7,1658.6 2085.2,1648.4 2086.6,1654.2 2088.0,1650.1 2089.4,1652.5 2090.8,1648.3 2092.2,1649.6 2093.6,1647.7 2095.0,1651.8 2096.4,1657.7 2097.8,1652.0 2099.2,1654.6 2100.6,1646.5 2102.1,1654.4 2103.5,1630.7 2104.9,1640.8 2106.3,1647.3 2107.7,1638.5 2109.1,1653.4 2110.5,1652.2 2111.9,1646.7 2113.3,1654.1 2114.7,1645.6 2116.1,1650.2 2117.5,1653.9 2119.0,1646.8 2120.4,1662.6 2121.8,1651.8 2123.2,1661.4 2124.6,1653.8 2126.0,1656.2 2127.4,1648.7 2128.8,1652.4 2130.2,1651.6 2131.6,1655.4 2133.0,1662.1 2134.4,1650.2 2135.9,1652.3 2137.3,1655.3 2138.7,1658.6 2140.1,1653.4 2141.5,1652.6 2142.9,1652.3 2144.3,1656.8 2145.7,1659.2 2147.1,1654.6 2148.5,1658.1 2149.9,1666.0 2151.4,1662.8 2152.8,1661.1 2154.2,1670.1 2155.6,1671.1 2157.0,1671.4 2158.4,1672.6 2159.8,1667.0 2161.2,1671.3 2162.6,1672.4 2164.0,1671.4 2165.4,1659.7 2166.8,1669.4 2168.3,1670.3 2169.7,1669.5 2171.1,1663.2 2172.5,1664.3 2173.9,1653.2 2175.3,1655.9 2176.7,1648.6 2178.1,1666.8 2179.5,1679.7 2180.9,1682.1 2182.3,1666.4 2183.7,1678.4 2185.2,1683.0 2186.6,1674.3 2188.0,1664.7 2189.4,1685.4 2190.8,1674.9 2192.2,1674.9 2193.6,1687.7 2195.0,1680.4 2196.4,1682.4 2197.8,1687.0"/>
<polyline stroke="#960000" stroke-width="8" points="171.0,1091.8 172.4,1095.0 173.8,1081.4 175.2,1092.5 176.6,1081.4 178.0,1070.1 179.5,1075.4 180.9,1082.9 182.3,1078.2 183.7,1063.6 185.1,1074.7 186.5,1066.1 187.9,1067.2 189.3,1064.4 190.7,1051.7 192.1,1062.9 193.5,1054.9 194.9,1071.7 196.4,1065.0 197.8,1059.5 199.2,1051.5 200.6,1060.0 202.0,1060.9 203.4,1049.4 204.8,1074.9 206.2,1058.1 207.6,1065.5 209.0,1040.3 210.4,1059.4 211.8,1033.5 213.3,1037.7 214.7,1046.4 216.1,1042.1 217.5,1022.8 218.9,1032.4 220.3,1046.9 221.7,1055.9 223.1,1045.4 224.5,1034.7 225.9,1042.0 227.3,1025.5 228.7,1037.7 230.2,1022.0 231.6,1031.7 233.0,1029.9 234.4,1039.6 235.8,1027.2 237.2,1038.9 238.6,1027.8 240.0,1036.2 241.4,1036.2 242.8,1008.2 244.2,1030.0 245.7,1029.0 247.1,1021.2 248.5,1028.0 249.9,1012.8 251.3,1028.2 252.7,1027.9 254.1,1026.7 255.5,1044.7 256.9,1028.8 258.3,1027.6 259.7,1022.3 261.1,1031.6 262.6,1022.9 264.0,1041.9 265.4,1027.8 266.8,1035.3 268.2,1050.8 269.6,1045.5 271.0,1039.5 272.4,1049.8 273.8,1039.7 275.2,1047.8 276.6,1043.1 278.0,1037.1 279.5,1049.1 280.9,1054.8 282.3,1046.3 283.7,1042.1 285.1,1047.7 286.5,1033.7 287.9,1047.6 289.3,1042.6 290.7,1073.4 292.1,1042.8 293.5,1033.2 294.9,1050.7 296.4,1041.3 297.8,1042.7 299.2,1044.0 300.6,1044.7 302.0,1041.2 303.4,1057.3 304.8,1052.1 306.2,1046.3 307.6,1051.3 309.0,1047.6 310.4,1059.4 311.9,1064.7 313.3,1065.6 314.7,1066.9 316.1,1062.0 317.5,1077.6 318.9,1065.0 320.3,1068.0 321.7,1065.8 323.1,1069.0 324.5,1065.7 325.9,1082.7 327.3,1069.0 328.8,1051.7 330.2,1060.1 331.6,1054.9 333.0,1074.1 334.4,1078.7 335.8,1064.2 337.2,1072.2 338.6,1064.8 340.0,1068.6 341.4,1078.3 342.8,1061.7 344.2,1055.5 345.7,1072.5 347.1,1073.0 348.5,1076.5 349.9,1081.4 351.3,1069.6 352.7,1060.6 354.1,1085.3 355.5,1074.2 356.9,1068.1 358.3,1068.6 359.7,1087.3 361.1,1080.5 362.6,1082.6 364.0,1088.3 365.4,1074.8 366.8,1074.6 368.2,1076.9 369.6,1074.5 371.0,1080.0 372.4,1073.9 373.8,1079.9 375.2,1074.9 376.6,1078.2 378.0,1084.9 379.5,1092.3 380.9,1095.1 382.3,1084.7 383.7,1085.7 385.1,1079.7 386.5,1091.1 387.9,1094.5 389.3,1077.0 390.7,1087.2 392.1,1078.7 393.5,1080.5 395.0,1084.3 396.4,1080.4 397.8,1091.1 399.2,1072.2 400.6,1078.5 402.0,1082.9 403.4,1075.3 404.8,1086.0 406.2,1070.5 407.6,1082.1 409.0,1069.1 410.4,1078.0 411.9,1081.5 413.3,1093.6 414.7,1083.6 416.1,1087.4 417.5,1075.1 418.9,1091.3 420.3,1072.5 421.7,1072.1 423.1,1063.4 424.5,1074.4 425.9,1079.6 427.3,1064.9 428.8,1066.1 430.2,1065.2 431.6,1066.5 433.0,1064.8 434.4,1058.8 435.8,1079.9 437.2,1052.1 438.6,1058.5 440.0,1066.2 441.4,1068.6 442.8,1056.0 444.2,1052.9 445.7,1053.9 447.1,1050.6 448.5,1059.5 449.9,1048.8 451.3,1045.3 452.7,1049.8 454.1,1054.4 455.5,1063.3 456.9,1065.9 458.3,1049.5 459.7,1040.2 461.2,1039.1 462.6,1065.3 464.0,1043.5 465.4,1048.5 466.8,1058.0 468.2,1035.3 469.6,1037.0 471.0,1031.3 472.4,1024.6 473.8,1037.1 475.2,1036.7 476.6,1003.3 478.1,1030.7 479.5,1018.6 480.9,1019.9 482.3,1018.2 483.7,1004.9 485.1,1011.8 486.5,1005.9 487.9,1028.8 489.3,1039.2 490.7,1013.4 492.1,1002.7 493.5,1019.9 495.0,1007.3 496.4,1020.1 497.8,1018.9 499.2,1012.6 500.6,991.5 502.0,981.6 503.4,976.5 504.8,978.7 506.2,967.8 507.6,981.2 509.0,974.6 510.4,968.2 511.9,964.9 513.3,973.0 514.7,978.3 516.1,950.9 517.5,966.0 518.9,959.2 520.3,952.7 521.7,952.7 523.1,953.4 524.5,962.9 525.9,944.2 527.4,935.8 528.8,924.7 530.2,935.7 531.6,919.2 533.0,920.5 534.4,924.7 535.8,918.6 537.2,915.0 538.6,916.7 540.0,925.0 541.4,916.9 542.8,917.1 544.3,915.6 545.7,905.8 547.1,906.8 548.5,896.8 549.9,901.6 551.3,890.3 552.7,866.4 554.1,872.4 555.5,876.6 556.9,859.9 558.3,852.2 559.7,858.0 561.2,837.0 562.6,842.4 564.0,843.6 565.4,843.1 566.8,825.7 568.2,821.3 569.6,840.0 571.0,815.3 572.4,819.9 573.8,835.6 575.2,806.4 576.6,790.1 578.1,825.6 579.5,807.2 580.9,797.1 582.3,810.8 583.7,782.5 585.1,788.7 586.5,771.5 587.9,763.7 589.3,768.7 590.7,763.8 592.1,763.0 593.6,759.2 595.0,743.1 596.4,744.1 597.8,757.7 599.2,744.3 600.6,736.5 602.0,748.3 603.4,739.0 604.8,733.0 606.2,713.0 607.6,708.9 609.0,712.9 610.5,712.2 611.9,689.8 613.3,693.0 614.7,692.7 616.1,698.9 617.5,678.6 618.9,704.6 620.3,679.5 621.7,678.9 623.1,686.1 624.5,667.2 625.9,661.6 627.4,647.8 628.8,646.4 630.2,628.1 631.6,630.1 633.0,625.8 634.4,613.1 635.8,624.7 637.2,616.5 638.6,594.4 640.0,611.3 641.4,593.2 642.8,600.3 644.3,578.6 645.7,577.4 647.1,576.0 648.5,580.8 649.9,546.2 651.3,550.0 652.7,544.3 654.1,549.3 655.5,532.1 656.9,530.7 658.3,531.1 659.7,519.5 661.2,502.6 662.6,494.7 664.0,488.7 665.4,485.4 666.8,471.3 668.2,471.9 669.6,471.0 671.0,456.6 672.4,450.5 673.8,450.0 675.2,446.6 676.7,421.6 678.1,416.2 679.5,429.1 680.9,414.4 682.3,402.1 683.7,408.7 685.1,417.6 686.5,397.3 687.9,391.3 689.3,393.7 690.7,411.4 692.1,383.8 693.6,390.0 695.0,390.9 696.4,385.4 697.8,375.9 699.2,382.1 700.6,377.0 702.0,380.9 703.4,375.5 704.8,370.2 706.2,351.4 707.6,365.8 709.0,355.0 710.5,334.2 711.9,344.8 713.3,341.8 714.7,332.9 716.1,309.3 717.5,318.2 718.9,312.0 720.3,312.9 721.7,293.1 723.1,309.2 724.5,307.4 725.9,305.1 727.4,297.6 728.8,294.9 730.2,301.7 731.6,295.8 733.0,287.5 734.4,291.4 735.8,293.1 737.2,295.2 738.6,287.0 740.0,274.4 741.4,274.4 742.9,278.3 744.3,277.9 745.7,282.8 747.1,259.4 748.5,268.1 749.9,265.1 751.3,282.9 752.7,280.3 754.1,276.5 755.5,279.9 756.9,268.7 758.3,277.0 759.8,272.9 761.2,272.6 762.6,270.1 764.0,277.8 765.4,278.0 766.8,258.4 768.2,266.1 769.6,271.6 771.0,276.4 772.4,256.4 773.8,267.2 775.2,273.5 776.7,291.4 778.1,272.6 779.5,277.1 780.9,280.1 782.3,279.3 783.7,281.0 785.1,279.7 786.5,279.0 787.9,283.7 789.3,285.2 790.7,288.1 792.1,290.8 793.6,281.4 795.0,295.0 796.4,297.4 797.8,304.8 799.2,307.3 800.6,317.7 802.0,302.9 803.4,311.8 804.8,318.0 806.2,314.6 807.6,320.4 809.1,322.4 810.5,324.0 811.9,348.8 813.3,333.4 814.7,348.7 816.1,333.8 817.5,347.6 818.9,342.8 820.3,353.9 821.7,367.8 823.1,373.5 824.5,368.3 826.0,369.4 827.4,369.7 828.8,376.7 830.2,388.7 831.6,369.6 833.0,384.6 834.4,384.0 835.8,404.6 837.2,393.5 838.6,416.2 840.0,406.6 841.4,413.0 842.9,438.6 844.3,439.9 845.7,430.1 847.1,429.2 848.5,442.8 849.9,462.3 851.3,464.9 852.7,465.1 854.1,484.0 855.5,496.9 856.9,484.0 858.3,499.6 859.8,498.7 861.2,524.8 862.6,525.3 864.0,526.9 865.4,525.6 866.8,549.5 868.2,546.7 869.6,554.3 871.0,555.8 872.4,564.7 873.8,555.0 875.3,569.6 876.7,586.1 878.1,604.9 879.5,599.9 880.9,602.1 882.3,602.9 883.7,608.0 885.1,617.6 886.5,620.2 887.9,634.5 889.3,639.7 890.7,661.7 892.2,651.8 893.6,667.1 895.0,660.0 896.4,674.8 897.8,689.8 899.2,669.4 900.6,668.5 902.0,690.1 903.4,686.7 904.8,688.9 906.2,698.9 907.6,702.0 909.1,713.8 910.5,711.7 911.9,708.5 913.3,710.4 914.7,711.9 916.1,719.5 917.5,747.7 918.9,735.1 920.3,754.4 921.7,771.3 923.1,771.8 924.5,784.0 926.0,782.2 927.4,792.6 928.8,779.0 930.2,779.5 931.6,803.4 933.0,792.7 934.4,793.2 935.8,791.6 937.2,814.3 938.6,812.6 940.0,819.9 941.4,818.1 942.9,830.5 944.3,832.6 945.7,840.4 947.1,848.1 948.5,845.0 949.9,842.3 951.3,861.5 952.7,851.3 954.1,875.1 955.5,881.6 956.9,864.4 958.4,893.3 959.8,879.1 961.2,900.5 962.6,889.7 964.0,903.9 965.4,893.0 966.8,909.8 968.2,909.4 969.6,926.1 971.0,924.7 972.4,916.6 973.8,930.8 975.3,927.7 976.7,939.0 978.1,959.8 979.5,957.7 980.9,950.7 982.3,947.4 983.7,959.2 985.1,979.9 986.5,967.3 987.9,960.8 989.3,964.4 990.7,968.5 992.2,988.8 993.6,979.7 995.0,978.3 996.4,988.7 997.8,995.7 999.2,990.3 1000.6,989.1 1002.0,1001.3 1003.4,1010.3 1004.8,995.2 1006.2,1001.6 1007.6,1033.5 1009.1,1027.0 1010.5,1032.4 1011.9,1024.7 1013.3,1033.8 1014.7,1045.2 1016.1,1062.2 1017.5,1057.2 1018.9,1047.1 1020.3,1074.6 1021.7,1083.7 1023.1,1074.6 1024.6,1062.3 1026.0,1069.2 1027.4,1076.1 1028.8,1083.3 1030.2,1100.6 1031.6,1079.7 1033.0,1088.0 1034.4,1096.0 1035.8,1093.7 1037.2,1096.1 1038.6,1084.7 1040.0,1104.9 1041.5,1105.1 1042.9,1112.4 1044.3,1121.6 1045.7,1115.4 1047.1,1119.8 1048.5,1126.3 1049.9,1123.8 1051.3,1131.4 1052.7,1111.9 1054.1,1127.3 1055.5,1139.3 1056.9,1138.3 1058.4,1144.8 1059.8,1130.6 1061.2,1139.6 1062.6,1146.5 1064.0,1150.5 1065.4,1154.0 1066.8,1170.5 1068.2,1159.5 1069.6,1163.2 1071.0,1171.6 1072.4,1173.2 1073.8,1172.6 1075.3,1186.3 1076.7,1180.9 1078.1,1177.8 1079.5,1175.3 1080.9,1194.5 1082.3,1183.4 1083.7,1193.6 1085.1,1189.3 1086.5,1211.4 1087.9,1203.6 1089.3,1187.7 1090.8,1205.2 1092.2,1195.2 1093.6,1203.6 1095.0,1216.0 1096.4,1202.9 1097.8,1217.3 1099.2,1217.3 1100.6,1226.8 1102.0,1218.1 1103.4,1233.6 1104.8,1230.3 1106.2,1243.7 1107.7,1239.3 1109.1,1246.2 1110.5,1253.6 1111.9,1254.0 1113.3,1247.6 1114.7,1254.3 1116.1,1250.8 1117.5,1255.6 1118.9,1265.7 1120.3,1249.6 1121.7,1248.9 1123.1,1262.3 1124.6,1256.7 1126.0,1271.4 1127.4,1271.0 1128.8,1271.8 1130.2,1269.5 1131.6,1268.6 1133.0,1267.8 1134.4,1272.1 1135.8,1277.2 1137.2,1271.4 1138.6,1285.5 1140.0,1282.7 1141.5,1269.1 1142.9,1260.3 1144.3,1292.6 1145.7,1275.2 1147.1,1266.5 1148.5,1278.2 1149.9,1294.4 1151.3,1305.5 1152.7,1305.5 1154.1,1311.8 1155.5,1316.0 1157.0,1318.3 1158.4,1300.2 1159.8,1306.9 1161.2,1305.4 1162.6,1311.6 1164.0,1309.2 1165.4,1316.5 1166.8,1329.2 1168.2,1313.9 1169.6,1328.7 1171.0,1316.8 1172.4,1317.1 1173.9,1334.9 1175.3,1328.6 1176.7,1331.5 1178.1,1342.3 1179.5,1324.6 1180.9,1335.0 1182.3,1345.1 1183.7,1328.8 1185.1,1338.1 1186.5,1343.6 1187.9,1344.9 1189.3,1345.0 1190.8,1352.2 1192.2,1347.7 1193.6,1352.0 1195.0,1351.6 1196.4,1342.0 1197.8,1353.5 1199.2,1353.3 1200.6,1362.8 1202.0,1359.5 1203.4,1360.4 1204.8,1358.9 1206.2,1362.8 1207.7,1355.5 1209.1,1362.0 1210.5,1356.7 1211.9,1359.2 1213.3,1356.8 1214.7,1380.7 1216.1,1371.7 1217.5,1362.9 1218.9,1368.3 1220.3,1374.6 1221.7,1370.9 1223.1,1380.3 1224.6,1380.1 1226.0,1386.6 1227.4,1362.0 1228.8,1387.0 1230.2,1384.7 1231.6,1390.5 1233.0,1380.7 1234.4,1380.2 1235.8,1378.8 1237.2,1391.2 1238.6,1391.5 1240.1,1381.9 1241.5,1391.8 1242.9,1397.6 1244.3,1391.7 1245.7,1398.0 1247.1,1400.0 1248.5,1396.8 1249.9,1389.7 1251.3,1411.6 1252.7,1402.8 1254.1,1404.6 1255.5,1399.8 1257.0,1405.7 1258.4,1401.0 1259.8,1405.2 1261.2,1407.2 1262.6,1410.7 1264.0,1403.8 1265.4,1403.7 1266.8,1418.3 1268.2,1403.7 1269.6,1416.6 1271.0,1417.2 1272.4,1425.4 1273.9,1419.5 1275.3,1419.4 1276.7,1428.7 1278.1,1416.7 1279.5,1424.0 1280.9,1431.2 1282.3,1432.6 1283.7,1423.1 1285.1,1441.1 1286.5,1433.6 1287.9,1442.6 1289.3,1442.9 1290.8,1437.3 1292.2,1435.5 1293.6,1430.2 1295.0,1449.5 1296.4,1450.4 1297.8,1442.2 1299.2,1442.1 1300.6,1436.4 1302.0,1436.5 1303.4,1443.0 1304.8,1452.4 1306.3,1444.4 1307.7,1453.0 1309.1,1451.4 1310.5,1449.5 1311.9,1446.1 1313.3,1448.7 1314.7,1445.5 1316.1,1461.9 1317.5,1458.2 1318.9,1450.4 1320.3,1452.0 1321.7,1452.2 1323.2,1463.6 1324.6,1468.5 1326.0,1461.2 1327.4,1464.1 1328.8,1471.4 1330.2,1459.4 1331.6,1471.2 1333.0,1479.7 1334.4,1480.6 1335.8,1470.6 1337.2,1472.3 1338.6,1478.6 1340.1,1479.6 1341.5,1485.8 1342.9,1479.5 1344.3,1480.9 1345.7,1481.8 1347.1,1491.2 1348.5,1476.7 1349.9,1492.0 1351.3,1487.8 1352.7,1490.1 1354.1,1484.9 1355.5,1490.8 1357.0,1486.3 1358.4,1468.8 1359.8,1494.2 1361.2,1482.9 1362.6,1490.6 1364.0,1481.8 1365.4,1487.4 1366.8,1487.9 1368.2,1481.3 1369.6,1493.4 1371.0,1491.6 1372.5,1482.6 1373.9,1509.3 1375.3,1502.7 1376.7,1503.1 1378.1,1502.1 1379.5,1507.9 1380.9,1501.1 1382.3,1509.8 1383.7,1512.8 1385.1,1505.6 1386.5,1510.1 1387.9,1511.7 1389.4,1502.7 1390.8,1514.2 1392.2,1512.0 1393.6,1519.3 1395.0,1512.4 1396.4,1505.5 1397.8,1510.9 1399.2,1506.7 1400.6,1495.7 1402.0,1508.9 1403.4,1503.4 1404.8,1519.9 1406.3,1515.5 1407.7,1520.2 1409.1,1518.3 1410.5,1515.9 1411.9,1522.0 1413.3,1509.3 1414.7,1523.9 1416.1,1519.2 1417.5,1508.9 1418.9,1520.6 1420.3,1526.3 1421.7,1520.9 1423.2,1532.7 1424.6,1532.5 1426.0,1521.1 1427.4,1519.5 1428.8,1521.7 1430.2,1519.0 1431.6,1525.0 1433.0,1526.4 1434.4,1523.3 1435.8,1523.5 1437.2,1519.6 1438.7,1519.8 1440.1,1517.2 1441.5,1535.9 1442.9,1528.1 1444.3,1526.9 1445.7,1520.4 1447.1,1516.7 1448.5,1523.1 1449.9,1525.9 1451.3,1529.1 1452.7,1536.3 1454.1,1530.6 1455.6,1536.1 1457.0,1533.5 1458.4,1532.5 1459.8,1525.6 1461.2,1529.2 1462.6,1524.7 1464.0,1525.2 1465.4,1524.1 1466.8,1525.9 1468.2,1529.7 1469.6,1534.1 1471.0,1527.4 1472.5,1531.0 1473.9,1533.8 1475.3,1540.7 1476.7,1534.6 1478.1,1538.8 1479.5,1541.0 1480.9,1536.5 1482.3,1546.6 1483.7,1532.3 1485.1,1530.5 1486.5,1531.7 1487.9,1532.7 1489.4,1533.0 1490.8,1533.2 1492.2,1536.7 1493.6,1529.6 1495.0,1529.2 1496.4,1536.5 1497.8,1532.8 1499.2,1536.8 1500.6,1532.4 1502.0,1526.9 1503.4,1533.2 1504.8,1531.4 1506.3,1533.1 1507.7,1530.1 1509.1,1524.9 1510.5,1539.1 1511.9,1524.0 1513.3,1521.7 1514.7,1530.7 1516.1,1532.9 1517.5,1540.3 1518.9,1534.6 1520.3,1538.4 1521.8,1539.7 1523.2,1542.4 1524.6,1528.7 1526.0,1540.1 1527.4,1531.5 1528.8,1549.4 1530.2,1535.3 1531.6,1536.5 1533.0,1544.5 1534.4,1542.0 1535.8,1542.4 1537.2,1548.0 1538.7,1541.4 1540.1,1541.2 1541.5,1551.3 1542.9,1541.6 1544.3,1545.2 1545.7,1535.6 1547.1,1541.7 1548.5,1538.9 1549.9,1542.0 1551.3,1552.1 1552.7,1526.2 1554.1,1531.1 1555.6,1534.5 1557.0,1537.0 1558.4,1527.2 1559.8,1535.5 1561.2,1530.4 1562.6,1535.4 1564.0,1528.6 1565.4,1550.7 1566.8,1535.9 1568.2,1538.6 1569.6,1521.0 1571.0,1531.1 1572.5,1536.0 1573.9,1547.9 1575.3,1532.9 1576.7,1540.0 1578.1,1529.0 1579.5,1535.5 1580.9,1524.0 1582.3,1517.8 1583.7,1530.6 1585.1,1540.7 1586.5,1541.1 1588.0,1535.0 1589.4,1528.2 1590.8,1542.1 1592.2,1532.2 1593.6,1527.7 1595.0,1529.7 1596.4,1529.4 1597.8,1540.5 1599.2,1529.7 1600.6,1526.6 1602.0,1527.3 1603.4,1520.7 1604.9,1537.3 1606.3,1523.3 1607.7,1529.0 1609.1,1521.5 1610.5,1521.8 1611.9,1512.5 1613.3,1525.4 1614.7,1537.9 1616.1,1535.2 1617.5,1526.8 1618.9,1533.1 1620.3,1520.3 1621.8,1518.8 1623.2,1533.7 1624.6,1523.5 1626.0,1541.5 1627.4,1537.8 1628.8,1522.7 1630.2,1527.4 1631.6,1527.3 1633.0,1534.0 1634.4,1525.7 1635.8,1529.1 1637.2,1520.2 1638.7,1539.3 1640.1,1534.7 1641.5,1529.5 1642.9,1518.9 1644.3,1529.4 1645.7,1546.6 1647.1,1531.0 1648.5,1536.3 1649.9,1516.1 1651.3,1527.8 1652.7,1528.6 1654.2,1536.9 1655.6,1524.5 1657.0,1535.7 1658.4,1537.2 1659.8,1531.2 1661.2,1529.5 1662.6,1534.6 1664.0,1523.8 1665.4,1519.5 1666.8,1517.8 1668.2,1527.9 1669.6,1523.9 1671.1,1523.7 1672.5,1520.2 1673.9,1522.4 1675.3,1534.2 1676.7,1521.2 1678.1,1518.1 1679.5,1517.2 1680.9,1519.9 1682.3,1530.2 1683.7,1526.5 1685.1,1526.5 1686.5,1528.6 1688.0,1521.9 1689.4,1526.0 1690.8,1529.6 1692.2,1530.0 1693.6,1534.4 1695.0,1538.1 1696.4,1528.1 1697.8,1533.0 1699.2,1532.0 1700.6,1524.4 1702.0,1531.3 1703.4,1531.1 1704.9,1514.3 1706.3,1526.1 1707.7,1525.6 1709.1,1524.8 1710.5,1513.6 1711.9,1529.0 1713.3,1522.2 1714.7,1518.3 1716.1,1514.0 1717.5,1527.4 1718.9,1522.8 1720.4,1515.4 1721.8,1533.4 1723.2,1515.5 1724.6,1526.7 1726.0,1516.3 1727.4,1520.8 1728.8,1526.1 1730.2,1520.5 1731.6,1525.3 1733.0,1522.0 1734.4,1531.1 1735.8,1526.5 1737.3,1526.8 1738.7,1518.4 1740.1,1520.7 1741.5,1524.9 1742.9,1534.2 1744.3,1533.1 1745.7,1525.1 1747.1,1531.1 1748.5,1524.8 1749.9,1525.1 1751.3,1523.8 1752.7,1521.2 1754.2,1525.6 1755.6,1540.9 1757.0,1519.9 1758.4,1528.0 1759.8,1525.6 1761.2,1519.3 1762.6,1522.1 1764.0,1512.8 1765.4,1514.6 1766.8,1521.4 1768.2,1521.8 1769.6,1512.8 1771.1,1512.8 1772.5,1507.1 1773.9,1521.0 1775.3,1513.7 1776.7,1511.5 1778.1,1517.1 1779.5,1514.5 1780.9,1505.2 1782.3,1521.0 1783.7,1504.2 1785.1,1505.6 1786.5,1523.0 1788.0,1517.0 1789.4,1510.0 1790.8,1528.4 1792.2,1528.6 1793.6,1522.6 1795.0,1523.2 1796.4,1524.6 1797.8,1530.2 1799.2,1521.2 1800.6,1514.6 1802.0,1520.5 1803.5,1518.2 1804.9,1511.8 1806.3,1519.2 1807.7,1516.2 1809.1,1523.4 1810.5,1529.9 1811.9,1525.1 1813.3,1538.7 1814.7,1523.6 1816.1,1521.4 1817.5,1514.7 1818.9,1525.5 1820.4,1523.2 1821.8,1509.3 1823.2,1514.2 1824.6,1520.7 1826.0,1512.3 1827.4,1516.2 1828.8,1514.6 1830.2,1524.6 1831.6,1503.0 1833.0,1511.7 1834.4,1505.8 1835.8,1510.0 1837.3,1529.0 1838.7,1524.0 1840.1,1522.9 1841.5,1519.4 1842.9,1519.9 1844.3,1531.7 1845.7,1512.0 1847.1,1525.0 1848.5,1522.1 1849.9,1508.0 1851.3,1513.3 1852.7,1505.9 1854.2,1509.0 1855.6,1512.6 1857.0,1507.8 1858.4,1512.9 1859.8,1510.0 1861.2,1485.6 1862.6,1512.4 1864.0,1501.0 1865.4,1492.0 1866.8,1508.8 1868.2,1507.9 1869.7,1523.5 1871.1,1516.3 1872.5,1514.3 1873.9,1508.6 1875.3,1513.2 1876.7,1503.5 1878.1,1514.4 1879.5,1503.5 1880.9,1506.7 1882.3,1509.5 1883.7,1501.4 1885.1,1526.3 1886.6,1509.3 1888.0,1505.1 1889.4,1498.6 1890.8,1502.5 1892.2,1505.5 1893.6,1508.6 1895.0,1496.0 1896.4,1502.5 1897.8,1517.0 1899.2,1508.6 1900.6,1507.6 1902.0,1505.6 1903.5,1506.5 1904.9,1508.7 1906.3,1514.8 1907.7,1513.3 1909.1,1500.5 1910.5,1497.3 1911.9,1504.9 1913.3,1497.9 1914.7,1507.2 1916.1,1508.0 1917.5,1496.8 1918.9,1488.9 1920.4,1489.7 1921.8,1502.5 1923.2,1496.7 1924.6,1506.8 1926.0,1507.2 1927.4,1507.2 1928.8,1506.7 1930.2,1503.6 1931.6,1511.4 1933.0,1495.4 1934.4,1509.0 1935.9,1519.7 1937.3,1513.1 1938.7,1505.2 1940.1,1503.8 1941.5,1508.7 1942.9,1506.6 1944.3,1518.8 1945.7,1506.2 1947.1,1509.1 1948.5,1503.3 1949.9,1514.3 1951.3,1500.9 1952.8,1515.5 1954.2,1513.7 1955.6,1502.6 1957.0,1513.0 1958.4,1508.9 1959.8,1506.9 1961.2,1501.7 1962.6,1499.4 1964.0,1500.1 1965.4,1498.5 1966.8,1509.1 1968.2,1502.9 1969.7,1522.6 1971.1,1512.7 1972.5,1518.4 1973.9,1508.3 1975.3,1523.1 1976.7,1511.9 1978.1,1521.4 1979.5,1518.0 1980.9,1520.6 1982.3,1509.6 1983.7,1511.0 1985.1,1522.3 1986.6,1519.1 1988.0,1512.3 1989.4,1519.2 1990.8,1516.2 1992.2,1512.3 1993.6,1529.0 1995.0,1503.2 1996.4,1516.0 1997.8,1523.5 1999.2,1520.9 2000.6,1530.2 2002.1,1521.2 2003.5,1519.9 2004.9,1511.8 2006.3,1524.7 2007.7,1510.5 2009.1,1511.6 2010.5,1511.3 2011.9,1517.2 2013.3,1509.9 2014.7,1513.8 2016.1,1512.1 2017.5,1500.2 2019.0,1512.8 2020.4,1529.8 2021.8,1514.6 2023.2,1517.3 2024.6,1531.0 2026.0,1509.3 2027.4,1517.3 2028.8,1519.8 2030.2,1503.7 2031.6,1522.5 2033.0,1519.3 2034.4,1507.2 2035.9,1515.6 2037.3,1508.0 2038.7,1532.8 2040.1,1528.5 2041.5,1515.3 2042.9,1510.3 2044.3,1516.2 2045.7,1505.4 2047.1,1509.8 2048.5,1503.5 2049.9,1508.1 2051.3,1512.1 2052.8,1511.6 2054.2,1514.3 2055.6,1506.8 2057.0,1515.2 2058.4,1510.0 2059.8,1511.2 2061.2,1518.0 2062.6,1509.1 2064.0,1503.5 2065.4,1514.6 2066.8,1505.5 2068.2,1513.8 2069.7,1514.3 2071.1,1502.7 2072.5,1507.1 2073.9,1510.0 2075.3,1517.5 2076.7,1520.6 2078.1,1515.2 2079.5,1528.9 2080.9,1519.6 2082.3,1505.3 2083.7,1518.8 2085.2,1509.2 2086.6,1511.1 2088.0,1515.2 2089.4,1516.7 2090.8,1521.5 2092.2,1525.4 2093.6,1528.6 2095.0,1519.3 2096.4,1523.8 2097.8,1530.5 2099.2,1516.1 2100.6,1528.3 2102.1,1525.9 2103.5,1518.7 2104.9,1528.0 2106.3,1524.6 2107.7,1527.8 2109.1,1531.8 2110.5,1522.4 2111.9,1516.9 2113.3,1521.8 2114.7,1518.2 2116.1,1530.8 2117.5,1521.6 2119.0,1520.2 2120.4,1518.0 2121.8,1527.6 2123.2,1521.5 2124.6,1523.2 2126.0,1518.8 2127.4,1512.0 2128.8,1510.5 2130.2,1523.7 2131.6,1515.5 2133.0,1522.5 2134.4,1512.7 2135.9,1519.2 2137.3,1518.5 2138.7,1517.0 2140.1,1525.5 2141.5,1526.8 2142.9,1519.6 2144.3,1533.9 2145.7,1521.5 2147.1,1513.0 2148.5,1527.3 2149.9,1517.8 2151.4,1524.5 2152.8,1529.0 2154.2,1534.3 2155.6,1530.1 2157.0,1521.4 2158.4,1532.5 2159.8,1525.2 2161.2,1530.4 2162.6,1529.9 2164.0,1521.6 2165.4,1516.9 2166.8,1525.7 2168.3,1522.1 2169.7,1521.5 2171.1,1523.2 2172.5,1518.0 2173.9,1514.8 2175.3,1521.7 2176.7,1526.4 2178.1,1524.0 2179.5,1530.0 2180.9,1530.9 2182.3,1529.2 2183.7,1520.7 2185.2,1518.4 2186.6,1522.2 2188.0,1522.3 2189.4,1536.0 2190.8,1537.3 2192.2,1523.6 2193.6,1531.8 2195.0,1533.7 2196.4,1528.8 2197.8,1531.4"/>
</g>
<g fill="none" stroke-linecap="butt">
<path d="M1000.7 230.7H1030.1V619.3" stroke="#FF8005" stroke-width="4.5"/>
<path d="M1067.7 300.1H1038.3V1825" stroke="#E80000" stroke-width="4"/>
<path d="M776 319.7V471" stroke="#800080" stroke-width="3"/>
<path d="M2070.2 1615V1705.5" stroke="#960000" stroke-width="3"/>
</g>
<g stroke-linecap="round" stroke-width="7.2" fill="none">
<path d="M1818.4 250.4H1956.4" stroke="#FF8005"/>
<path d="M1819.3 326.4H1955.5" stroke="#E80000" stroke-width="9"/>
<path d="M1818.8 402.3H1956" stroke="#800080" stroke-width="7.9"/>
<path d="M1819 478.3H1955.8" stroke="#960000" stroke-width="8.2"/>
</g>
<text transform="translate(227.6 1948) scale(0.96 1)" font-size="87.5" fill="#000" text-anchor="middle" font-weight="bold">10</text>
<text transform="translate(791.0 1948) scale(0.96 1)" font-size="87.5" fill="#000" text-anchor="middle" font-weight="bold">20</text>
<text transform="translate(1354.4 1948) scale(0.96 1)" font-size="87.5" fill="#000" text-anchor="middle" font-weight="bold">30</text>
<text transform="translate(1917.8 1948) scale(0.96 1)" font-size="87.5" fill="#000" text-anchor="middle" font-weight="bold">40</text>
<text transform="translate(117.5 1747.3) scale(0.96 1)" font-size="87.5" fill="#000" text-anchor="end" font-weight="bold">0</text>
<text transform="translate(117.5 1220.3) scale(0.96 1)" font-size="87.5" fill="#000" text-anchor="end" font-weight="bold">10</text>
<text transform="translate(117.5 693.3) scale(0.96 1)" font-size="87.5" fill="#000" text-anchor="end" font-weight="bold">20</text>
<text x="43" y="154.8" font-size="105" fill="#000" font-weight="bold" font-style="italic">I</text>
<text transform="translate(88.5 114.7) scale(0.965 1)" font-size="70" fill="#000" font-weight="bold">0.5</text>
<text transform="translate(2028.5 2061.2) scale(0.96 1)" font-size="92" fill="#000" font-weight="bold">2</text>
<text transform="translate(2083.5 2063.3) scale(1.12 1)" font-size="97" fill="#000" font-weight="bold" font-style="italic" style="font-family:'Liberation Serif',serif">θ</text>
<text x="2125" y="2061.8" font-size="92" fill="#000" font-weight="bold">,</text>
<text x="2175.4" y="2067" font-size="104" fill="#000">°</text>
<text x="919" y="213" font-size="54.7" fill="#FF8005">24.3°</text>
<text x="1050.3" y="283.3" font-size="54.7" fill="#E80000">24.5°</text>
<text x="710" y="536.0" font-size="54.7" fill="#800080">19.7°</text>
<text x="2017" y="1582.5" font-size="54.7" fill="#960000">42.6°</text>
<text transform="translate(778.5 1461.8) scale(0.9 1)" font-size="65" fill="#FF8005" font-style="italic">1</text>
<text transform="translate(978 1453.9) scale(0.9 1)" font-size="65" fill="#E80000" font-style="italic">2</text>
<text transform="translate(1561 1453.8) scale(0.9 1)" font-size="65" fill="#800080" font-style="italic">3</text>
<text transform="translate(1845 1453.8) scale(0.9 1)" font-size="65" fill="#960000" font-style="italic">4</text>
<text transform="translate(1750.5 271.9) scale(0.9 1)" font-size="65" fill="#FF8005" font-style="italic">1</text>
<text x="1782.5" y="270.6" font-size="60.5" fill="#000">)</text>
<text transform="translate(1750.5 348) scale(0.9 1)" font-size="65" fill="#E80000" font-style="italic">2</text>
<text x="1782.5" y="346.7" font-size="60.5" fill="#000">)</text>
<text transform="translate(1750.5 423.5) scale(0.9 1)" font-size="65" fill="#800080" font-style="italic">3</text>
<text x="1782.5" y="422.2" font-size="60.5" fill="#000">)</text>
<text transform="translate(1750.5 499.2) scale(0.9 1)" font-size="65" fill="#960000" font-style="italic">4</text>
<text x="1782.5" y="497.9" font-size="60.5" fill="#000">)</text>
</svg>
</body></html>
